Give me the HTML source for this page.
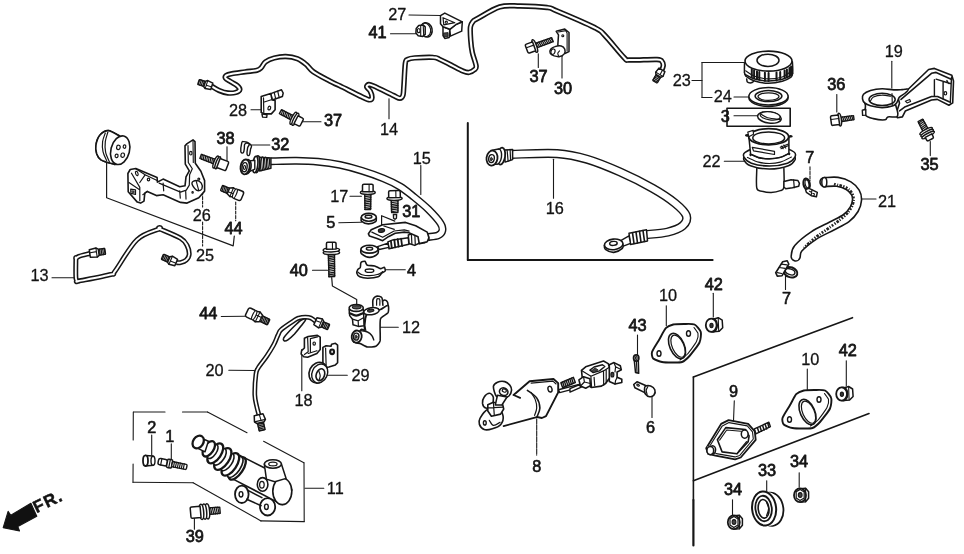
<!DOCTYPE html>
<html><head><meta charset="utf-8"><title>Clutch master cylinder diagram</title>
<style>
html,body{margin:0;padding:0;background:#fff;}
body{width:964px;height:554px;overflow:hidden;}
svg{display:block;filter:grayscale(1);}
svg text{font-family:"Liberation Sans",sans-serif;fill:#111;}
.t{stroke-linejoin:round;}
</style></head><body>
<svg width="964" height="554" viewBox="0 0 964 554" stroke-linecap="round" stroke-linejoin="round">
<rect x="0" y="0" width="964" height="554" fill="#fff"/>
<line x1="467.8" y1="123" x2="467.8" y2="260" stroke="#161616" stroke-width="2"/>
<line x1="467.8" y1="260" x2="712.6" y2="260" stroke="#161616" stroke-width="2"/>
<line x1="693.4" y1="377" x2="852.5" y2="317.7" stroke="#161616" stroke-width="1.6"/>
<line x1="693.4" y1="377" x2="693.4" y2="500" stroke="#161616" stroke-width="1.6"/>
<line x1="693.4" y1="500" x2="693.4" y2="545.5" stroke="#161616" stroke-width="2.2"/>
<line x1="693.4" y1="480.7" x2="869" y2="413.5" stroke="#161616" stroke-width="1.6"/>
<path class="t" d="M211.8 86.3C213 87 216.3 89.3 219 90.4C221.7 91.5 225 92.7 227.8 93C230.6 93.3 233.7 93.1 235.7 92.5C237.7 91.9 239.6 90.7 239.8 89.5C240.1 88.3 238.7 86.9 237.2 85.6C235.7 84.3 232.6 82.9 230.7 81.7C228.8 80.5 226.3 79.3 225.6 78.3C224.9 77.2 225.2 76.2 226.3 75.4C227.4 74.6 228.9 74.3 232.1 73.7C235.2 73.1 241.1 72.4 245.2 71.8C249.3 71.2 254.1 71 256.8 70.3C259.5 69.6 259.8 69.1 261.2 67.7C262.6 66.3 263.3 63.5 265.5 61.9C267.7 60.3 270.8 58.9 274.2 58C277.6 57.1 281.9 56.4 285.8 56.5C289.7 56.6 294.1 57.4 297.5 58.7C300.9 60 303.6 62.3 306.2 64.5C308.8 66.7 309.4 69 313.4 71.8C317.4 74.6 325.6 78.8 330 81.2C334.4 83.6 334.7 83.3 340 85.9C345.3 88.5 356.9 94.5 361.8 96.8C366.7 99.1 367.9 99.8 369.6 99.9C371.3 100 371.9 99 372 97.6C372.1 96.2 371.2 93.1 370.3 91.3C369.4 89.5 366.9 88 366.7 86.9C366.4 85.8 367.7 84.7 368.8 84.5C369.9 84.3 369.5 84.1 373.5 85.9C377.5 87.7 388.5 93.1 392.9 95.2C397.3 97.3 398.2 98.3 399.9 98.3C401.6 98.3 402.4 97.1 403 95.2C403.6 93.3 403.4 92 403.8 86.7C404.2 81.4 404.7 67.8 405.3 63.3C405.9 58.8 406.1 60.3 407.7 59.4C409.3 58.5 410.4 58.2 414.7 57.9C419 57.6 429.2 57.1 433.4 57.4C437.5 57.6 436.7 58.1 439.6 59.4C442.5 60.7 447.1 63 451 65C454.9 67 459.9 69.9 462.9 71.1C465.9 72.3 467.2 72.7 469.1 72.4C471.1 72.2 473.4 70.7 474.6 69.6C475.8 68.5 476.5 68.6 476.1 65.7C475.7 62.8 473.2 56.7 472.3 52.4C471.4 48.1 471 44.2 470.7 40C470.4 35.8 470 30.1 470.4 27C470.8 23.9 471.9 22.9 473 21.5C474.1 20.1 472.9 21.1 477.3 18.7C481.8 16.3 492.6 9 499.7 6.9C506.8 4.8 512.1 5.9 520 6C527.9 6.1 540.8 6.7 547 7.5C553.2 8.3 549.1 7.7 557 11C564.9 14.3 586.6 23.5 594.5 27.5C602.4 31.5 599.6 30 604.5 35C609.4 40 619.8 53.3 624 57.5C628.2 61.7 624.5 59.7 630 60C635.5 60.3 651.7 59.2 657 59.5C662.3 59.8 661 60.4 662 61.5C663 62.6 663.4 64.3 663.2 66C663 67.7 661.4 70.6 661 71.5" fill="none" stroke="#161616" stroke-width="5.4" stroke-linecap="butt"/>
<path class="t" d="M211.8 86.3C213 87 216.3 89.3 219 90.4C221.7 91.5 225 92.7 227.8 93C230.6 93.3 233.7 93.1 235.7 92.5C237.7 91.9 239.6 90.7 239.8 89.5C240.1 88.3 238.7 86.9 237.2 85.6C235.7 84.3 232.6 82.9 230.7 81.7C228.8 80.5 226.3 79.3 225.6 78.3C224.9 77.2 225.2 76.2 226.3 75.4C227.4 74.6 228.9 74.3 232.1 73.7C235.2 73.1 241.1 72.4 245.2 71.8C249.3 71.2 254.1 71 256.8 70.3C259.5 69.6 259.8 69.1 261.2 67.7C262.6 66.3 263.3 63.5 265.5 61.9C267.7 60.3 270.8 58.9 274.2 58C277.6 57.1 281.9 56.4 285.8 56.5C289.7 56.6 294.1 57.4 297.5 58.7C300.9 60 303.6 62.3 306.2 64.5C308.8 66.7 309.4 69 313.4 71.8C317.4 74.6 325.6 78.8 330 81.2C334.4 83.6 334.7 83.3 340 85.9C345.3 88.5 356.9 94.5 361.8 96.8C366.7 99.1 367.9 99.8 369.6 99.9C371.3 100 371.9 99 372 97.6C372.1 96.2 371.2 93.1 370.3 91.3C369.4 89.5 366.9 88 366.7 86.9C366.4 85.8 367.7 84.7 368.8 84.5C369.9 84.3 369.5 84.1 373.5 85.9C377.5 87.7 388.5 93.1 392.9 95.2C397.3 97.3 398.2 98.3 399.9 98.3C401.6 98.3 402.4 97.1 403 95.2C403.6 93.3 403.4 92 403.8 86.7C404.2 81.4 404.7 67.8 405.3 63.3C405.9 58.8 406.1 60.3 407.7 59.4C409.3 58.5 410.4 58.2 414.7 57.9C419 57.6 429.2 57.1 433.4 57.4C437.5 57.6 436.7 58.1 439.6 59.4C442.5 60.7 447.1 63 451 65C454.9 67 459.9 69.9 462.9 71.1C465.9 72.3 467.2 72.7 469.1 72.4C471.1 72.2 473.4 70.7 474.6 69.6C475.8 68.5 476.5 68.6 476.1 65.7C475.7 62.8 473.2 56.7 472.3 52.4C471.4 48.1 471 44.2 470.7 40C470.4 35.8 470 30.1 470.4 27C470.8 23.9 471.9 22.9 473 21.5C474.1 20.1 472.9 21.1 477.3 18.7C481.8 16.3 492.6 9 499.7 6.9C506.8 4.8 512.1 5.9 520 6C527.9 6.1 540.8 6.7 547 7.5C553.2 8.3 549.1 7.7 557 11C564.9 14.3 586.6 23.5 594.5 27.5C602.4 31.5 599.6 30 604.5 35C609.4 40 619.8 53.3 624 57.5C628.2 61.7 624.5 59.7 630 60C635.5 60.3 651.7 59.2 657 59.5C662.3 59.8 661 60.4 662 61.5C663 62.6 663.4 64.3 663.2 66C663 67.7 661.4 70.6 661 71.5" fill="none" stroke="#fff" stroke-width="2.1" stroke-linecap="butt"/>
<path class="t" d="M89.8 253.5C88 254 81.2 255.5 78.9 256.4C76.6 257.3 76.4 258.4 75.9 258.8C75.4 259.2 75.9 255.5 75.9 258.8C75.9 262.1 75.5 275 76 278.7C76.5 282.4 78.2 280.7 78.6 281.1C79 281.5 73.2 282.2 78.6 281.1C84 280 104.7 276.2 110.8 274.5C116.9 272.8 110.8 276.7 115.2 270.9C119.6 265.1 129.6 246.7 137 239.7C144.4 232.7 155.8 230.6 159.5 228.8C163.2 227 156 227.2 159.5 228.8C163 230.4 175.9 235.4 180.5 238.2C185.1 241 185.7 242.8 187.1 245.5C188.5 248.2 189.3 251.8 189.2 254.2C189.1 256.6 187.8 258.6 186.3 260C184.9 261.4 182.2 262.2 180.5 262.6C178.8 263 176.9 262.6 176.2 262.6" fill="none" stroke="#161616" stroke-width="5" stroke-linecap="butt"/>
<path class="t" d="M89.8 253.5C88 254 81.2 255.5 78.9 256.4C76.6 257.3 76.4 258.4 75.9 258.8C75.4 259.2 75.9 255.5 75.9 258.8C75.9 262.1 75.5 275 76 278.7C76.5 282.4 78.2 280.7 78.6 281.1C79 281.5 73.2 282.2 78.6 281.1C84 280 104.7 276.2 110.8 274.5C116.9 272.8 110.8 276.7 115.2 270.9C119.6 265.1 129.6 246.7 137 239.7C144.4 232.7 155.8 230.6 159.5 228.8C163.2 227 156 227.2 159.5 228.8C163 230.4 175.9 235.4 180.5 238.2C185.1 241 185.7 242.8 187.1 245.5C188.5 248.2 189.3 251.8 189.2 254.2C189.1 256.6 187.8 258.6 186.3 260C184.9 261.4 182.2 262.2 180.5 262.6C178.8 263 176.9 262.6 176.2 262.6" fill="none" stroke="#fff" stroke-width="1.9" stroke-linecap="butt"/>
<path class="t" d="M270.9 161.3C275.1 161.2 288.4 160.6 296.3 160.7C304.2 160.8 310.8 161 318.1 161.7C325.4 162.4 332.6 163.4 339.9 164.9C347.2 166.4 354.4 168.4 361.7 170.7C368.9 172.9 377 175.8 383.4 178.4C389.8 181 394.9 183.4 400 186.5C405.1 189.6 409.3 193.2 414 197C418.7 200.8 424 205.1 428.4 209.4C432.8 213.8 438.1 219.6 440.4 223.1C442.7 226.6 442.8 228.4 442.4 230.5C442 232.6 440.4 234.3 438 235.4C435.6 236.5 429.7 236.7 428 237" fill="none" stroke="#161616" stroke-width="7.9" stroke-linecap="butt"/>
<path class="t" d="M270.9 161.3C275.1 161.2 288.4 160.6 296.3 160.7C304.2 160.8 310.8 161 318.1 161.7C325.4 162.4 332.6 163.4 339.9 164.9C347.2 166.4 354.4 168.4 361.7 170.7C368.9 172.9 377 175.8 383.4 178.4C389.8 181 394.9 183.4 400 186.5C405.1 189.6 409.3 193.2 414 197C418.7 200.8 424 205.1 428.4 209.4C432.8 213.8 438.1 219.6 440.4 223.1C442.7 226.6 442.8 228.4 442.4 230.5C442 232.6 440.4 234.3 438 235.4C435.6 236.5 429.7 236.7 428 237" fill="none" stroke="#fff" stroke-width="5" stroke-linecap="butt"/>
<path class="t" d="M512.1 154.3C519.6 154.2 544.7 152.8 557.2 153.6C569.7 154.4 576.8 156.2 587.3 159.3C597.8 162.4 609 167.1 619.9 171.9C630.8 176.7 643.3 183 652.5 188.2C661.7 193.4 669.5 198.6 675.1 203.2C680.8 207.8 685.1 212 686.4 215.8C687.6 219.6 685.7 223.1 682.6 225.8C679.5 228.5 673.7 230.6 667.6 232.1C661.5 233.6 649.8 234.2 646.2 234.6" fill="none" stroke="#161616" stroke-width="9.2" stroke-linecap="butt"/>
<path class="t" d="M512.1 154.3C519.6 154.2 544.7 152.8 557.2 153.6C569.7 154.4 576.8 156.2 587.3 159.3C597.8 162.4 609 167.1 619.9 171.9C630.8 176.7 643.3 183 652.5 188.2C661.7 193.4 669.5 198.6 675.1 203.2C680.8 207.8 685.1 212 686.4 215.8C687.6 219.6 685.7 223.1 682.6 225.8C679.5 228.5 673.7 230.6 667.6 232.1C661.5 233.6 649.8 234.2 646.2 234.6" fill="none" stroke="#fff" stroke-width="6.3" stroke-linecap="butt"/>
<path class="t" d="M824.5 182.1C826.6 182.1 833.4 181.2 837.4 181.8C841.4 182.4 845.6 183.9 848.6 185.7C851.6 187.5 853.9 190 855.3 192.4C856.7 194.8 857.2 197.4 857 200.2C856.8 203 856 206.2 854.2 209.2C852.4 212.2 850 215.3 846.3 218.1C842.6 220.9 837.3 223.1 831.8 226C826.3 228.9 818.9 232.1 813.3 235.8C807.7 239.5 801.1 245 798.2 248.4C795.3 251.8 796.1 255.1 795.7 256.4" fill="none" stroke="#161616" stroke-width="10.6" stroke-linecap="round"/>
<path class="t" d="M824.5 182.1C826.6 182.1 833.4 181.2 837.4 181.8C841.4 182.4 845.6 183.9 848.6 185.7C851.6 187.5 853.9 190 855.3 192.4C856.7 194.8 857.2 197.4 857 200.2C856.8 203 856 206.2 854.2 209.2C852.4 212.2 850 215.3 846.3 218.1C842.6 220.9 837.3 223.1 831.8 226C826.3 228.9 818.9 232.1 813.3 235.8C807.7 239.5 801.1 245 798.2 248.4C795.3 251.8 796.1 255.1 795.7 256.4" fill="none" stroke="#fff" stroke-width="7.4" stroke-linecap="round"/>
<line x1="409" y1="15" x2="441" y2="15.5" stroke="#1a1a1a" stroke-width="1.1"/>
<line x1="390.5" y1="33.8" x2="416" y2="33.8" stroke="#1a1a1a" stroke-width="1.1"/>
<line x1="302" y1="121.8" x2="321" y2="121.8" stroke="#1a1a1a" stroke-width="1.1"/>
<line x1="389" y1="98.8" x2="389" y2="118.8" stroke="#1a1a1a" stroke-width="1.1"/>
<line x1="251" y1="109.8" x2="261" y2="109.8" stroke="#1a1a1a" stroke-width="1.1"/>
<line x1="538.3" y1="53.8" x2="538.3" y2="67.5" stroke="#1a1a1a" stroke-width="1.1"/>
<line x1="562" y1="56.3" x2="562" y2="78" stroke="#1a1a1a" stroke-width="1.1"/>
<line x1="692" y1="80.5" x2="702" y2="80.5" stroke="#1a1a1a" stroke-width="1.1"/>
<line x1="702" y1="62.5" x2="702" y2="97.5" stroke="#1a1a1a" stroke-width="1.1"/>
<line x1="702" y1="62.5" x2="744.5" y2="62.5" stroke="#1a1a1a" stroke-width="1.1"/>
<line x1="702" y1="97.5" x2="712" y2="97.5" stroke="#1a1a1a" stroke-width="1.1"/>
<line x1="734" y1="97" x2="749" y2="97" stroke="#1a1a1a" stroke-width="1.1"/>
<line x1="734" y1="115.8" x2="757" y2="115.8" stroke="#1a1a1a" stroke-width="1.1"/>
<line x1="724.3" y1="161.3" x2="744" y2="161.3" stroke="#1a1a1a" stroke-width="1.1"/>
<line x1="891.8" y1="61.3" x2="891.8" y2="88" stroke="#1a1a1a" stroke-width="1.1"/>
<line x1="836.8" y1="94.5" x2="836.8" y2="112" stroke="#1a1a1a" stroke-width="1.1"/>
<line x1="930.3" y1="141.5" x2="930.3" y2="155.6" stroke="#1a1a1a" stroke-width="1.1"/>
<line x1="810" y1="166.9" x2="810" y2="180.6" stroke="#1a1a1a" stroke-width="1.1" stroke-dasharray="3 1.5"/>
<line x1="862.2" y1="199" x2="876" y2="199" stroke="#1a1a1a" stroke-width="1.1"/>
<line x1="785.5" y1="276" x2="785.5" y2="289.5" stroke="#1a1a1a" stroke-width="1.1"/>
<line x1="553.5" y1="159.3" x2="553.5" y2="198.2" stroke="#1a1a1a" stroke-width="1.1"/>
<line x1="420.8" y1="165.6" x2="420.8" y2="194.4" stroke="#1a1a1a" stroke-width="1.1"/>
<line x1="249.8" y1="145" x2="269.8" y2="145" stroke="#1a1a1a" stroke-width="1.1"/>
<line x1="350" y1="196.2" x2="361.4" y2="196.2" stroke="#1a1a1a" stroke-width="1.1"/>
<line x1="338.8" y1="222.8" x2="361.4" y2="222.3" stroke="#1a1a1a" stroke-width="1.1"/>
<line x1="312.5" y1="270.2" x2="327.5" y2="270.2" stroke="#1a1a1a" stroke-width="1.1"/>
<line x1="385.2" y1="269.7" x2="405.3" y2="269.7" stroke="#1a1a1a" stroke-width="1.1"/>
<line x1="227" y1="146.8" x2="227" y2="160.6" stroke="#1a1a1a" stroke-width="1.1"/>
<line x1="202.6" y1="192" x2="202.6" y2="207" stroke="#1a1a1a" stroke-width="1.1" stroke-dasharray="3 1.5"/>
<line x1="202.6" y1="222" x2="202.6" y2="246" stroke="#1a1a1a" stroke-width="1.1" stroke-dasharray="3 1.5"/>
<line x1="235.7" y1="202" x2="235.7" y2="220.8" stroke="#1a1a1a" stroke-width="1.1" stroke-dasharray="3 1.5"/>
<path d="M106.6 161.8L106.6 197.7L233.2 245.9L234.3 236" fill="none" stroke="#1a1a1a" stroke-width="1.2"/>
<line x1="52" y1="277.7" x2="73.8" y2="277.7" stroke="#1a1a1a" stroke-width="1.1"/>
<line x1="221.3" y1="316.5" x2="245.4" y2="316.3" stroke="#1a1a1a" stroke-width="1.1"/>
<line x1="228.8" y1="370.3" x2="254.4" y2="370.5" stroke="#1a1a1a" stroke-width="1.1"/>
<line x1="380.5" y1="327.3" x2="398.3" y2="327.3" stroke="#1a1a1a" stroke-width="1.1"/>
<line x1="326" y1="375.3" x2="347.3" y2="375.3" stroke="#1a1a1a" stroke-width="1.1"/>
<line x1="301.8" y1="349.5" x2="301.8" y2="390.8" stroke="#1a1a1a" stroke-width="1.1"/>
<line x1="151.7" y1="435" x2="151.7" y2="455.1" stroke="#1a1a1a" stroke-width="1.1"/>
<line x1="171.3" y1="443.9" x2="171.3" y2="460.2" stroke="#1a1a1a" stroke-width="1.1"/>
<line x1="194.4" y1="517.9" x2="194.4" y2="529.2" stroke="#1a1a1a" stroke-width="1.1"/>
<line x1="305" y1="488.3" x2="323.8" y2="488.3" stroke="#1a1a1a" stroke-width="1.1"/>
<line x1="536.7" y1="418.8" x2="536.7" y2="455.1" stroke="#1a1a1a" stroke-width="1.1" stroke-dasharray="5 1"/>
<line x1="652" y1="396.5" x2="652" y2="417.5" stroke="#1a1a1a" stroke-width="1.1"/>
<line x1="637.5" y1="335" x2="637.5" y2="355" stroke="#1a1a1a" stroke-width="1.1"/>
<line x1="666.3" y1="305.8" x2="666.3" y2="325.8" stroke="#1a1a1a" stroke-width="1.1"/>
<line x1="713.3" y1="293.3" x2="713.3" y2="317" stroke="#1a1a1a" stroke-width="1.1"/>
<line x1="807.3" y1="369" x2="807.3" y2="389.5" stroke="#1a1a1a" stroke-width="1.1"/>
<line x1="846.3" y1="360.8" x2="846.3" y2="385.8" stroke="#1a1a1a" stroke-width="1.1"/>
<line x1="734.3" y1="400.8" x2="733.5" y2="421" stroke="#1a1a1a" stroke-width="1.1"/>
<line x1="766.7" y1="480.7" x2="766.7" y2="490.8" stroke="#1a1a1a" stroke-width="1.1"/>
<line x1="799.2" y1="472.7" x2="799.2" y2="487.2" stroke="#1a1a1a" stroke-width="1.1"/>
<line x1="732.5" y1="499.8" x2="732.5" y2="514.6" stroke="#1a1a1a" stroke-width="1.1"/>
<path d="M331.7 277.6L332.4 285.9L356.7 299.4L356.7 304.6" fill="none" stroke="#1a1a1a" stroke-width="1.2"/>
<line x1="133.5" y1="412" x2="165" y2="412" stroke="#1a1a1a" stroke-width="1.1"/>
<line x1="182.5" y1="412" x2="207.5" y2="412" stroke="#1a1a1a" stroke-width="1.1"/>
<line x1="207.5" y1="412" x2="247" y2="432.7" stroke="#1a1a1a" stroke-width="1.1"/>
<line x1="263.6" y1="441.3" x2="303.9" y2="462.7" stroke="#1a1a1a" stroke-width="1.1"/>
<line x1="304" y1="462.7" x2="304.2" y2="521.6" stroke="#1a1a1a" stroke-width="1.1"/>
<line x1="304.2" y1="521.6" x2="261" y2="520.9" stroke="#1a1a1a" stroke-width="1.1"/>
<line x1="261" y1="520.9" x2="193.1" y2="482.7" stroke="#1a1a1a" stroke-width="1.1"/>
<line x1="193.1" y1="482.7" x2="133" y2="482.2" stroke="#1a1a1a" stroke-width="1.1"/>
<line x1="133.3" y1="412" x2="133.2" y2="440" stroke="#1a1a1a" stroke-width="1.1"/>
<line x1="133.1" y1="464" x2="133" y2="482.2" stroke="#1a1a1a" stroke-width="1.1"/>
<rect x="727" y="108.2" width="63.2" height="18" fill="none" stroke="#161616" stroke-width="1.6"/>
<g transform="translate(211.8 86.3) rotate(198)"><rect x="7.5" y="-2.6" width="6.5" height="5.2" rx="0.8" fill="#fff" stroke="#161616" stroke-width="1.4"/><path d="M8.7 -2.6 L8.7 2.6M10.3 -2.6 L10.3 2.6M11.9 -2.6 L11.9 2.6M13.5 -2.6 L13.5 2.6" stroke="#161616" stroke-width="1.2" fill="none"/><path d="M0 -3.4 L5.6 -4.2 L7.5 -2.9 L7.5 2.9 L5.6 4.2 L0 3.4Z" fill="#fff" stroke="#161616" stroke-width="1.5"/><path d="M5.6 -4.2 L5.6 4.2 M0.5 -0.6 L5.6 -0.8" fill="none" stroke="#161616" stroke-width="1.1"/></g>
<g transform="translate(662 69.8) rotate(120.6)"><rect x="7" y="-2.6" width="7" height="5.2" rx="0.8" fill="#fff" stroke="#161616" stroke-width="1.4"/><path d="M8.2 -2.6 L8.2 2.6M9.8 -2.6 L9.8 2.6M11.4 -2.6 L11.4 2.6M13 -2.6 L13 2.6" stroke="#161616" stroke-width="1.2" fill="none"/><path d="M0 -3.4 L5.2 -4.2 L7 -2.9 L7 2.9 L5.2 4.2 L0 3.4Z" fill="#fff" stroke="#161616" stroke-width="1.5"/><path d="M5.2 -4.2 L5.2 4.2 M0.5 -0.6 L5.2 -0.8" fill="none" stroke="#161616" stroke-width="1.1"/></g>
<g transform="translate(89.8 253.5) rotate(-8)"><rect x="9" y="-3" width="6.5" height="6" rx="0.8" fill="#fff" stroke="#161616" stroke-width="1.4"/><path d="M10.2 -3 L10.2 3M11.8 -3 L11.8 3M13.4 -3 L13.4 3M15 -3 L15 3" stroke="#161616" stroke-width="1.2" fill="none"/><path d="M0 -3.7 L6.8 -4.6 L9 -3.2 L9 3.2 L6.8 4.6 L0 3.7Z" fill="#fff" stroke="#161616" stroke-width="1.5"/><path d="M6.8 -4.6 L6.8 4.6 M0.5 -0.7 L6.8 -0.9" fill="none" stroke="#161616" stroke-width="1.1"/></g>
<g transform="translate(176.2 262.6) rotate(203)"><rect x="8" y="-2.8" width="7" height="5.6" rx="0.8" fill="#fff" stroke="#161616" stroke-width="1.4"/><path d="M9.2 -2.8 L9.2 2.8M10.8 -2.8 L10.8 2.8M12.4 -2.8 L12.4 2.8M14 -2.8 L14 2.8" stroke="#161616" stroke-width="1.2" fill="none"/><path d="M0 -3.5 L6 -4.4 L8 -3.1 L8 3.1 L6 4.4 L0 3.5Z" fill="#fff" stroke="#161616" stroke-width="1.5"/><path d="M6 -4.4 L6 4.4 M0.5 -0.7 L6 -0.9" fill="none" stroke="#161616" stroke-width="1.1"/></g>
<path d="M443 26.8L443 35.5L444.8 38.4L449.2 37.4L449.8 29.3Z" fill="#fff" stroke="#161616" stroke-width="1.5"/>
<path d="M443.8 33L448 32.6L448 36.4L444.1 36.9Z" fill="#444" stroke="#161616" stroke-width="0.8"/>
<path d="M456 24.3L462.3 21.8L461.7 31.1L450.4 36.1L449.8 29.3Z" fill="#fff" stroke="#161616" stroke-width="1.5"/>
<path d="M440.5 15.6L444.8 13.1L462.3 21.8L456 24.5L449.8 29.3L443 26.8L440.5 23.7Z" fill="#fff" stroke="#161616" stroke-width="1.5"/>
<path d="M443 17.7L454.8 22.7L443.8 24.9Z" fill="none" stroke="#161616" stroke-width="1.2"/>
<ellipse cx="446.3" cy="22.2" rx="1.1" ry="1.1" fill="#fff" stroke="#161616" stroke-width="1.1"/>
<ellipse cx="426.4" cy="29.9" rx="5.7" ry="7.2" fill="#fff" stroke="#161616" stroke-width="1.5" transform="rotate(-12 426.4 29.9)"/>
<ellipse cx="425.4" cy="29.9" rx="5.2" ry="6.7" fill="#fff" stroke="#161616" stroke-width="1.1" transform="rotate(-12 425.4 29.9)"/>
<path d="M416.2 28.4L418.7 25.5L423 24.9L425.2 26.9L425.2 34.4L422.7 36.4L418.2 35.7L415.9 33.1Z" fill="#fff" stroke="#161616" stroke-width="1.5"/>
<path d="M420.7 25.7L420.7 35.9M423.2 25.2L423.7 35.4" fill="none" stroke="#161616" stroke-width="1.1"/>
<ellipse cx="418.7" cy="30.6" rx="1.4" ry="2.1" fill="#fff" stroke="#161616" stroke-width="1.2"/>
<g transform="translate(526.6 49) rotate(-20)"><path d="M9.1 -2.3 L27.5 -2.1 L27.5 2.1 L9.1 2.3Z" fill="#fff" stroke="#161616" stroke-width="1.4"/><path d="M10.3 -2.3 L11.2 2.3M12.1 -2.3 L13 2.3M13.9 -2.3 L14.8 2.3M15.7 -2.3 L16.6 2.3M17.5 -2.3 L18.4 2.3M19.3 -2.3 L20.2 2.3M21.1 -2.3 L22 2.3M22.9 -2.3 L23.8 2.3M24.7 -2.3 L25.6 2.3M26.5 -2.3 L27.4 2.3" fill="none" stroke="#161616" stroke-width="1.2"/><ellipse cx="8.7" cy="0" rx="1.8" ry="6.6" fill="#fff" stroke="#161616" stroke-width="1.5"/><path d="M8 -4.7 L1.4 -4.7 Q0 -4.7 0 -3.3 L0 3.3 Q0 4.7 1.4 4.7 L8 4.7Z" fill="#fff" stroke="#161616" stroke-width="1.5"/><path d="M0.3 -1.2 L8 -1.2" fill="none" stroke="#161616" stroke-width="1.1"/></g>
<path d="M556.2 31.3L564.8 29.1L569 32.5L569 51.6L564.8 53.5L562.3 48.2L557.8 45.2L558.5 34.9Z" fill="#fff" stroke="#161616" stroke-width="1.5"/>
<path d="M558.5 32L565.8 30.6L567.1 33.3L567.1 50.9" fill="none" stroke="#161616" stroke-width="1.1"/>
<ellipse cx="562.8" cy="35.8" rx="1" ry="1" fill="#fff" stroke="#161616" stroke-width="1.1"/>
<path d="M550.7 49.2C551.5 48.1 553.1 47.1 554.9 46.6C556.6 46 559.5 45.5 561.2 45.9C562.8 46.3 564.3 47.9 564.8 49.2C565.3 50.6 565 52.7 564.2 53.9C563.3 55.1 561.5 56.2 559.8 56.5C558.2 56.9 555.8 56.4 554.2 55.9C552.6 55.3 550.8 54.3 550.2 53.2C549.6 52.1 549.9 50.3 550.7 49.2Z" fill="#fff" stroke="#161616" stroke-width="1.5"/>
<ellipse cx="553" cy="51.7" rx="2" ry="2.8" fill="#fff" stroke="#161616" stroke-width="1.2" transform="rotate(15 553 51.7)"/>
<path d="M558.5 55.9C558.4 55.4 557.7 54 557.8 53.2C558 52.4 559.2 51.3 559.5 50.9" fill="none" stroke="#161616" stroke-width="1.1"/>
<path d="M746.7 78.9C746.8 79.5 746.8 81.4 747.4 82.1C748 82.8 749.4 83 750.3 83C751.3 82.9 752.7 82.4 753.2 81.8C753.8 81.2 753.5 79.9 753.5 79.5" fill="#fff" stroke="#161616" stroke-width="1.5"/>
<path d="M744.5 72.2C744.8 72.9 744.3 74.9 746 76.3C747.7 77.8 750.9 79.8 754.7 81C758.4 82.1 763.9 83.2 768.5 83.3C773.1 83.3 778.5 82.3 782.3 81.2C786 80.2 789.3 78.5 791 77.2C792.7 75.8 792.4 73.8 792.7 73.1" fill="#fff" stroke="#161616" stroke-width="1.5"/>
<path d="M744.5 63.2C744.5 64.7 744.3 70.3 744.5 72.2C744.8 74.2 744.3 73.7 746 74.9C747.7 76 750.9 77.9 754.7 78.9C758.4 79.9 763.9 80.9 768.5 81C773.1 81 778.5 80.1 782.3 79.2C786 78.3 789.3 76.6 791 75.4C792.7 74.3 792.5 74.5 792.7 72.2C793 70 792.5 63.5 792.4 61.8" fill="#fff" stroke="#161616" stroke-width="1.5"/>
<path d="M745.7 70.8C747.2 71.7 750.9 75 754.7 76.3C758.5 77.7 763.9 78.8 768.5 78.9C773.1 79 778.4 78.2 782.3 76.9C786.1 75.6 790 72 791.6 71.1" fill="none" stroke="#161616" stroke-width="1.1"/>
<path d="M751.8 69L751.8 77.2M754.1 70.2L754.1 78.3M757 71.4L757 79.2M759.3 72L759.3 79.8M764.9 72.8L764.9 80.7M768.6 73.1L768.6 81M776.5 72.5L776.5 80.4M780.2 72L780.2 79.5M784.6 70.5L784.6 78M786.9 69.6L786.9 77.2M789.5 67.9L789.5 75.7M791.1 66.4L791.1 74.6" fill="none" stroke="#161616" stroke-width="2"/>
<ellipse cx="768.5" cy="61.1" rx="23.5" ry="10" fill="#fff" stroke="#161616" stroke-width="1.6"/>
<ellipse cx="768" cy="60.3" rx="11" ry="6.1" fill="#fff" stroke="#161616" stroke-width="1.5"/>
<ellipse cx="768.5" cy="97.5" rx="19.6" ry="9" fill="#fff" stroke="#161616" stroke-width="1.5"/>
<ellipse cx="768.5" cy="96.3" rx="19.6" ry="8.7" fill="#fff" stroke="#161616" stroke-width="1.5"/>
<ellipse cx="768.5" cy="96.1" rx="13.4" ry="5.5" fill="#fff" stroke="#161616" stroke-width="1.5"/>
<ellipse cx="768.5" cy="96.6" rx="10.5" ry="3.8" fill="#fff" stroke="#161616" stroke-width="1.2"/>
<ellipse cx="769.4" cy="117.5" rx="11.9" ry="5.6" fill="#fff" stroke="#161616" stroke-width="1.5" transform="rotate(8 769.4 117.5)"/>
<ellipse cx="770.1" cy="115.9" rx="10.1" ry="4" fill="#fff" stroke="#161616" stroke-width="1.2" transform="rotate(8 770.1 115.9)"/>
<path d="M760.8 114.1C761.9 114.7 764.4 116.8 767.6 117.7C770.9 118.6 778.1 119.2 780.3 119.5" fill="none" stroke="#161616" stroke-width="1.1"/>
<path d="M756.8 168.6C756.8 171.8 755.9 184.3 756.8 188.1C757.7 191.8 759.8 190.4 762.2 191.2C764.6 191.9 768.2 192.5 771.2 192.4C774.2 192.3 778.1 191.5 780.3 190.6C782.4 189.7 783.3 190.7 783.9 187C784.5 183.3 783.9 171.7 783.9 168.6" fill="#fff" stroke="#161616" stroke-width="1.5"/>
<path d="M783.9 181.6L791.1 179.8L797.9 180.5L799.4 183.4L798.7 186.3L792.5 187.7L785.7 188.8L783.9 187Z" fill="#fff" stroke="#161616" stroke-width="1.5"/>
<path d="M793.6 179.8L794.3 187.7" fill="none" stroke="#161616" stroke-width="1.2"/>
<path d="M745.1 153.8C744.8 154.8 742.9 157.6 743.8 159.6C744.7 161.6 746.2 164.1 750.5 165.7C754.7 167.3 763.1 169 769.4 169C775.7 169 784.1 167.3 788.4 165.7C792.6 164.1 794.1 161.6 795.1 159.6C796 157.5 794.2 154.5 794 153.4" fill="#fff" stroke="#161616" stroke-width="1.5"/>
<path d="M745.1 152.3C742.6 154 743.1 155.6 744.2 157.4C745.2 159.2 747.2 161.7 751.4 163.2C755.6 164.6 763.4 166.1 769.4 166.1C775.4 166.1 783.3 164.6 787.5 163.2C791.7 161.7 793.6 159.3 794.7 157.4C795.8 155.5 796.4 153.7 794 152C791.6 150.3 786.1 148.1 780.3 147.3C774.4 146.5 764.5 146.5 758.6 147.3C752.7 148.1 747.5 150.7 745.1 152.3Z" fill="#fff" stroke="#161616" stroke-width="1.5"/>
<path d="M747.4 157.4C749.3 158.2 754.9 161.1 758.6 162.1C762.3 163.1 765.8 163.5 769.4 163.5C773 163.5 776.6 163.2 780.3 162.1C783.9 161 789.6 157.9 791.4 157" fill="none" stroke="#161616" stroke-width="1.1"/>
<path d="M748.8 136.1C742.2 136 748.5 133.1 748.8 136.1C749.1 139.1 750.3 151.1 750.6 154.2C751 157.2 749.3 153.6 750.6 154.2C752 154.7 755.5 156.6 758.6 157.4C761.7 158.2 765.8 158.8 769.4 158.8C773 158.8 777 158.3 780.3 157.4C783.5 156.5 787.5 154.1 788.9 153.4C790.4 152.8 788.9 156.2 788.9 153.4C788.9 150.7 788.9 139.7 788.9 137C788.9 134.3 795.6 137.2 788.9 137C782.2 136.9 755.5 136.3 748.8 136.1Z" fill="#fff" stroke="#161616" stroke-width="1.5"/>
<path d="M750.6 154.2C752 154.8 755.5 157 758.6 157.8C761.7 158.5 765.8 158.9 769.4 158.8C773 158.8 777 158.3 780.3 157.4C783.5 156.5 787.5 154.1 788.9 153.4" fill="none" stroke="#161616" stroke-width="1.2"/>
<path d="M752.3 147.3L774.5 151.3L774.5 154.5L753.5 150.9Z" fill="#fff" stroke="#161616" stroke-width="1.2"/>
<path d="M780.3 147.3L788.4 144M781 148.7L788.6 145.5M781.3 146.2L783.1 148.7M783.9 145.1L785.7 148" fill="none" stroke="#161616" stroke-width="1.2"/>
<ellipse cx="768.7" cy="136.8" rx="20" ry="8.1" fill="#fff" stroke="#161616" stroke-width="1.8"/>
<ellipse cx="768.7" cy="137.9" rx="15.9" ry="6" fill="#fff" stroke="#161616" stroke-width="1.5"/>
<path d="M747.8 132.1L753.2 130.3L753.5 134.3L748.8 136.8Z" fill="#fff" stroke="#161616" stroke-width="1.2"/>
<ellipse cx="806.6" cy="183.9" rx="3.1" ry="5.4" fill="#fff" stroke="#161616" stroke-width="2.2" transform="rotate(-10 806.6 183.9)"/>
<ellipse cx="807" cy="183.9" rx="1.8" ry="4" fill="#fff" stroke="#161616" stroke-width="1.1" transform="rotate(-10 807 183.9)"/>
<path d="M805.5 189.5L809.1 188.4L817.3 192.4L816.4 196.8L811.3 195.7L806.4 192.4Z" fill="#fff" stroke="#161616" stroke-width="1.5"/>
<path d="M809.5 191.3L814.5 193.9L813.8 196M812 189.9L811.3 194.6" fill="none" stroke="#161616" stroke-width="1.1"/>
<path d="M896.6 91.6L908.2 89.3L928.6 69.5L934.4 68.4L951.8 75.3L953.5 81.1L952.7 102.9L948.9 105.2L937.3 99.4L931.5 100L905.3 111.1L902.4 116.9L897.5 117.7L896.3 113.1L899.5 103.2Z" fill="#fff" stroke="#161616" stroke-width="1.6"/>
<path d="M901 99.4L931.5 73.3L936.1 72.4L950.6 79.1" fill="none" stroke="#161616" stroke-width="1.6"/>
<path d="M899.5 110.8L905.3 106.7L931.5 96.5L937.6 96.5L949.2 101.8" fill="none" stroke="#161616" stroke-width="1.6"/>
<path d="M934.4 79.7L934.4 96M936.1 79.1L950.1 83.5M943.1 81.4L943.1 98.9M951.5 77.1L950.3 102.9M946.9 80.6L948.6 83.5" fill="none" stroke="#161616" stroke-width="1.4"/>
<ellipse cx="945.4" cy="93.3" rx="1.3" ry="1.7" fill="#fff" stroke="#161616" stroke-width="1.2"/>
<path d="M905.3 101.2L909.7 99.4L910.6 101.5L907.1 102.9Z" fill="#fff" stroke="#161616" stroke-width="1.1"/>
<path d="M862.9 98.6C863.3 99.7 865 102.4 865.4 105.1C865.8 107.8 864.1 112.6 865.4 114.8C866.7 117.1 870.1 117.8 873.4 118.6C876.6 119.4 882.6 120.1 885 119.8C887.4 119.5 886 117.4 887.9 116.9C889.8 116.4 895 117.5 896.6 116.9C898.3 116.2 898 115.2 897.8 113.1C897.6 111 895.8 105.8 895.5 104.4" fill="#fff" stroke="#161616" stroke-width="1.6"/>
<path d="M862.3 110.2L865.8 109.3L865.8 115.1L862.6 115.4Z" fill="#fff" stroke="#161616" stroke-width="1.4"/>
<path d="M862.5 98.9C862.3 97.4 862.2 95.6 863.5 94.2C864.8 92.8 867.4 91.4 870.5 90.4C873.6 89.5 878.2 88.8 882.1 88.7C886 88.6 890.3 89.7 893.7 89.9C897.1 90 900 89.7 902.4 89.6C904.8 89.5 907.7 88.7 908.2 89.3C908.7 89.9 906.8 91.7 905.3 93C903.9 94.4 901 95.5 899.5 97.1C898.1 98.8 897.8 101.4 896.6 102.9C895.4 104.4 894.7 105.3 892.3 106.1C889.8 106.9 885.7 107.6 882.1 107.6C878.5 107.5 873.4 106.6 870.5 105.8C867.6 105.1 866 104.1 864.7 102.9C863.3 101.8 862.7 100.3 862.5 98.9Z" fill="#fff" stroke="#161616" stroke-width="1.6"/>
<ellipse cx="882.1" cy="99.4" rx="13.1" ry="6.1" fill="#fff" stroke="#161616" stroke-width="1.5"/>
<path d="M892 93.6L892.3 105.2" fill="none" stroke="#161616" stroke-width="1.1"/>
<path d="M870.2 101.5C870.7 100.7 871.4 98.2 873.4 97.1C875.4 96.1 879.2 95.2 882.1 95.1C885 94.9 889.4 96.1 890.8 96.2" fill="none" stroke="#161616" stroke-width="1.1"/>
<g transform="translate(831 120.8) rotate(-8)"><path d="M9.1 -2.2 L23 -2 L23 2 L9.1 2.2Z" fill="#fff" stroke="#161616" stroke-width="1.4"/><path d="M10.3 -2.2 L11.2 2.2M12.1 -2.2 L13 2.2M13.9 -2.2 L14.8 2.2M15.7 -2.2 L16.6 2.2M17.5 -2.2 L18.4 2.2M19.3 -2.2 L20.2 2.2M21.1 -2.2 L22 2.2" fill="none" stroke="#161616" stroke-width="1.2"/><ellipse cx="8.7" cy="0" rx="1.8" ry="6.4" fill="#fff" stroke="#161616" stroke-width="1.5"/><path d="M8 -4.8 L1.4 -4.8 Q0 -4.8 0 -3.4 L0 3.4 Q0 4.8 1.4 4.8 L8 4.8Z" fill="#fff" stroke="#161616" stroke-width="1.5"/><path d="M0.3 -1.2 L8 -1.2" fill="none" stroke="#161616" stroke-width="1.1"/></g>
<g transform="translate(930.6 139.6) rotate(242)"><path d="M9.9 -2.9 L21.8 -2.6 L21.8 2.6 L9.9 2.9Z" fill="#fff" stroke="#161616" stroke-width="1.4"/><path d="M11.1 -2.9 L12 2.9M12.9 -2.9 L13.8 2.9M14.7 -2.9 L15.6 2.9M16.5 -2.9 L17.4 2.9M18.3 -2.9 L19.2 2.9M20.1 -2.9 L21 2.9" fill="none" stroke="#161616" stroke-width="1.2"/><ellipse cx="9.6" cy="0" rx="1.7" ry="7" fill="#fff" stroke="#161616" stroke-width="1.5"/><ellipse cx="7.4" cy="0" rx="1.7" ry="7" fill="#fff" stroke="#161616" stroke-width="1.5"/><ellipse cx="5.2" cy="0" rx="1.7" ry="7" fill="#fff" stroke="#161616" stroke-width="1.5"/><path d="M4.5 -3.7 L1.4 -3.7 Q0 -3.7 0 -2.3 L0 2.3 Q0 3.7 1.4 3.7 L4.5 3.7Z" fill="#fff" stroke="#161616" stroke-width="1.5"/></g>
<path d="M119.6 136C117.7 135.1 111.5 130.8 108.3 130.6C105 130.5 102 132.6 100 135C97.9 137.3 96.5 141.9 96 144.9C95.4 148 95.8 150.7 96.6 153.2C97.5 155.7 97.9 158 101 159.9C104 161.8 112.6 163.7 114.9 164.5" fill="#fff" stroke="#161616" stroke-width="1.6"/>
<path d="M119.6 136L108.3 130.6L100 135L96 144.9L96.6 153.2L101 159.9L114.9 164.5L123.2 149.9Z" fill="#fff" stroke="#161616" stroke-width="0"/>
<path d="M119.6 136C117.7 135.1 111.5 130.8 108.3 130.6C105 130.5 102 132.6 100 135C97.9 137.3 96.5 141.9 96 144.9C95.4 148 95.8 150.7 96.6 153.2C97.5 155.7 97.9 158 101 159.9C104 161.8 112.6 163.7 114.9 164.5" fill="none" stroke="#161616" stroke-width="1.6"/>
<path d="M105.3 133C104.8 134.4 103 138.5 102.6 141.6C102.2 144.7 102.3 148.4 103 151.6C103.6 154.7 106 159 106.6 160.5" fill="none" stroke="#161616" stroke-width="1.2"/>
<path d="M107.9 132C107.5 133.6 105.7 138.2 105.3 141.6C104.9 145 104.9 148.8 105.6 152.2C106.3 155.7 108.9 160.5 109.6 162.2" fill="none" stroke="#161616" stroke-width="1.2"/>
<ellipse cx="120.2" cy="150.2" rx="9.3" ry="14.6" fill="#fff" stroke="#161616" stroke-width="1.6" transform="rotate(14 120.2 150.2)"/>
<ellipse cx="118.4" cy="147.4" rx="1.8" ry="2.2" fill="#fff" stroke="#161616" stroke-width="1.2" transform="rotate(10 118.4 147.4)"/>
<ellipse cx="124.5" cy="146.6" rx="1.3" ry="1.7" fill="#fff" stroke="#161616" stroke-width="1.2" transform="rotate(10 124.5 146.6)"/>
<ellipse cx="116.6" cy="155.9" rx="1.5" ry="1.8" fill="#fff" stroke="#161616" stroke-width="1.2" transform="rotate(10 116.6 155.9)"/>
<ellipse cx="122.7" cy="155.2" rx="1.8" ry="2.2" fill="#fff" stroke="#161616" stroke-width="1.2" transform="rotate(10 122.7 155.2)"/>
<path d="M187.1 143.6L193 139.9L195 141.6L195.3 163.2L200.9 171.2L204.6 180.6L204.6 191.1L198.8 197.7L187.1 203.1L180.5 202.4L163.1 194.7L156.4 195.6L147.3 191.4L144.8 193.1L144 201.1L140.6 203.1L137.3 202.1L128.2 191.8L127.9 173.5L130.2 169.5L135.8 168.5L157.1 177.5L157.4 182.1L163.1 179.1L179.7 186.8L185 185.8L186 176.8L189.3 170.8L185.3 164.2L185 145.9Z" fill="#fff" stroke="#161616" stroke-width="1.6"/>
<path d="M188 145.6L188.3 162.5L192.3 168.8L189.6 174.8L189.3 185.1L186.3 190.1L180.5 192.1L159.1 183.1" fill="none" stroke="#161616" stroke-width="1.2"/>
<path d="M193 140.9L193.3 162.5" fill="none" stroke="#161616" stroke-width="1.1"/>
<ellipse cx="190.8" cy="153.2" rx="1.2" ry="1.8" fill="#fff" stroke="#161616" stroke-width="1.2"/>
<path d="M163.1 183.1L163.7 190.8M179.7 190.8L180.3 198.1M185.7 191.4L186 199.1" fill="none" stroke="#161616" stroke-width="1.2"/>
<path d="M192 182.8C192.2 181.5 194.7 180.4 196.3 180.5C197.8 180.5 200.3 181.7 201.3 183.1C202.2 184.5 202.4 187.5 201.9 188.8C201.4 190 199.5 190.8 198.3 190.8C197.1 190.7 195.7 189.8 194.6 188.4C193.6 187.1 191.7 184.1 192 182.8Z" fill="#fff" stroke="#161616" stroke-width="1.4"/>
<path d="M196.3 181.5L198.6 189.8" fill="none" stroke="#161616" stroke-width="1.1"/>
<ellipse cx="198.8" cy="179.1" rx="1" ry="1" fill="#fff" stroke="#161616" stroke-width="1.1"/>
<ellipse cx="192.6" cy="192.4" rx="0.7" ry="0.8" fill="#fff" stroke="#161616" stroke-width="1.1"/>
<path d="M131.5 173.2L139.8 187.4L139.8 200.7M128.9 182.5L139.2 189.4M135.8 168.8L145.1 174.8L139.8 182.5M145.1 174.8L157.1 180.5M142.8 194.7L147.3 191.4" fill="none" stroke="#161616" stroke-width="1.2"/>
<path d="M130.7 189.1L135.5 189.8L135.5 194.4L130.9 193.4Z" fill="#fff" stroke="#161616" stroke-width="1.2"/>
<path d="M132.2 190.8L134.2 191.1L134.2 192.8L132.3 192.4Z" fill="#555" stroke="#161616" stroke-width="0.7"/>
<ellipse cx="136.8" cy="173.5" rx="1.2" ry="2.2" fill="#fff" stroke="#161616" stroke-width="1.2" transform="rotate(-20 136.8 173.5)"/>
<ellipse cx="148.5" cy="179.5" rx="1.2" ry="1.3" fill="#fff" stroke="#161616" stroke-width="1.2"/>
<g transform="translate(227.3 166.4) rotate(200.6)"><path d="M12.8 -2.4 L28.5 -2.2 L28.5 2.2 L12.8 2.4Z" fill="#fff" stroke="#161616" stroke-width="1.4"/><path d="M14 -2.4 L14.9 2.4M15.8 -2.4 L16.7 2.4M17.6 -2.4 L18.5 2.4M19.4 -2.4 L20.3 2.4M21.2 -2.4 L22.1 2.4M23 -2.4 L23.9 2.4M24.8 -2.4 L25.7 2.4M26.6 -2.4 L27.5 2.4" fill="none" stroke="#161616" stroke-width="1.2"/><ellipse cx="12.4" cy="0" rx="1.8" ry="6.4" fill="#fff" stroke="#161616" stroke-width="1.5"/><ellipse cx="10.2" cy="0" rx="1.8" ry="6.4" fill="#fff" stroke="#161616" stroke-width="1.5"/><path d="M9.5 -4.8 L1.4 -4.8 Q0 -4.8 0 -3.4 L0 3.4 Q0 4.8 1.4 4.8 L9.5 4.8Z" fill="#fff" stroke="#161616" stroke-width="1.5"/></g>
<g transform="translate(242.3 196.6) rotate(202.6)"><rect x="14.5" y="-2.8" width="8" height="5.6" rx="0.8" fill="#fff" stroke="#161616" stroke-width="1.4"/><path d="M16 -2.8 L16.6 2.8M17.6 -2.8 L18.2 2.8M19.2 -2.8 L19.8 2.8M20.8 -2.8 L21.4 2.8" stroke="#161616" stroke-width="1.2" fill="none"/><path d="M7 -3.7 L11.5 -4.8 L15 -3.2 L15 3.2 L11.5 4.8 L7 3.7Z" fill="#fff" stroke="#161616" stroke-width="1.5"/><path d="M11.5 -4.8 L11.5 4.8 M8 -0.9 L15 -0.9" fill="none" stroke="#161616" stroke-width="1.1"/><rect x="0" y="-4.9" width="8" height="9.8" rx="2" fill="#fff" stroke="#161616" stroke-width="1.5"/><ellipse cx="8" cy="0" rx="1.6" ry="4.9" fill="#fff" stroke="#161616" stroke-width="1.2"/></g>
<path d="M241.8 142.6C241.4 144.3 240.6 149.9 240.8 151.6C241.1 153.3 242.7 153.3 243.3 152.8C243.9 152.3 244.1 150 244.3 148.6C244.5 147.2 244.2 145.4 244.6 144.5C245.1 143.5 246 143 246.8 143C247.6 143 249.1 143.7 249.3 144.5C249.4 145.3 248 146.1 247.6 147.8C247.3 149.4 246.8 153 247.1 154.3C247.4 155.5 248.7 156.1 249.3 155.2C249.9 154.4 250.3 150.5 250.6 148.9C251 147.4 251.9 146.9 251.4 145.8C250.9 144.7 249 143 247.6 142.3C246.3 141.6 244.4 141.6 243.5 141.6C242.5 141.7 242.3 141 241.8 142.6Z" fill="#fff" stroke="#161616" stroke-width="1.4"/>
<path d="M259.2 157.2L270.9 157.9L270.9 168.2L259.6 170.9Z" fill="#fff" stroke="#161616" stroke-width="1.5"/>
<ellipse cx="268.1" cy="163.2" rx="1.2" ry="5.5" fill="#fff" stroke="#161616" stroke-width="1.5" transform="rotate(4 268.1 163.2)"/>
<ellipse cx="265.1" cy="163.4" rx="1.2" ry="6.1" fill="#fff" stroke="#161616" stroke-width="1.5" transform="rotate(4 265.1 163.4)"/>
<ellipse cx="262.1" cy="163.7" rx="1.3" ry="6.8" fill="#fff" stroke="#161616" stroke-width="1.5" transform="rotate(4 262.1 163.7)"/>
<ellipse cx="257.1" cy="164.2" rx="2.5" ry="8.5" fill="#fff" stroke="#161616" stroke-width="1.6" transform="rotate(6 257.1 164.2)"/>
<ellipse cx="255.3" cy="164.5" rx="2.5" ry="8.3" fill="#fff" stroke="#161616" stroke-width="1.6" transform="rotate(6 255.3 164.5)"/>
<path d="M247.6 161.1L254.8 160.2L254.8 169.2L247.6 172.4Z" fill="#fff" stroke="#161616" stroke-width="1.4"/>
<ellipse cx="247.1" cy="166.7" rx="4" ry="7.3" fill="#fff" stroke="#161616" stroke-width="1.6" transform="rotate(8 247.1 166.7)"/>
<ellipse cx="245.1" cy="166.9" rx="4.5" ry="7.5" fill="#fff" stroke="#161616" stroke-width="1.9" transform="rotate(8 245.1 166.9)"/>
<ellipse cx="244.6" cy="167.2" rx="2.5" ry="4.6" fill="#fff" stroke="#161616" stroke-width="1.4" transform="rotate(8 244.6 167.2)"/>
<ellipse cx="244.5" cy="167.5" rx="1" ry="2" fill="#fff" stroke="#161616" stroke-width="1.1" transform="rotate(8 244.5 167.5)"/>
<g transform="translate(367.8 184.2) rotate(90)"><path d="M8.6 -3.1 L25.3 -2.8 L25.3 2.8 L8.6 3.1Z" fill="#fff" stroke="#161616" stroke-width="1.4"/><path d="M9.8 -3.1 L10.7 3.1M11.6 -3.1 L12.5 3.1M13.4 -3.1 L14.3 3.1M15.2 -3.1 L16.1 3.1M17 -3.1 L17.9 3.1M18.8 -3.1 L19.7 3.1M20.6 -3.1 L21.5 3.1M22.4 -3.1 L23.3 3.1M24.2 -3.1 L25.1 3.1" fill="none" stroke="#161616" stroke-width="1.2"/><ellipse cx="8.3" cy="0" rx="1.9" ry="7.4" fill="#fff" stroke="#161616" stroke-width="1.5"/><path d="M7.5 -5.3 L1.4 -5.3 Q0 -5.3 0 -3.9 L0 3.9 Q0 5.3 1.4 5.3 L7.5 5.3Z" fill="#fff" stroke="#161616" stroke-width="1.5"/><path d="M0.3 -1.3 L7.5 -1.3" fill="none" stroke="#161616" stroke-width="1.1"/></g>
<g transform="translate(394.4 190.6) rotate(89)"><path d="M8.2 -3.4 L22 -3.1 L22 3.1 L8.2 3.4Z" fill="#fff" stroke="#161616" stroke-width="1.4"/><path d="M9.4 -3.4 L10.3 3.4M11.2 -3.4 L12.1 3.4M13 -3.4 L13.9 3.4M14.8 -3.4 L15.7 3.4M16.6 -3.4 L17.5 3.4M18.4 -3.4 L19.3 3.4M20.2 -3.4 L21.1 3.4" fill="none" stroke="#161616" stroke-width="1.2"/><ellipse cx="7.8" cy="0" rx="2" ry="7.6" fill="#fff" stroke="#161616" stroke-width="1.5"/><path d="M7 -5.8 L1.4 -5.8 Q0 -5.8 0 -4.4 L0 4.4 Q0 5.8 1.4 5.8 L7 5.8Z" fill="#fff" stroke="#161616" stroke-width="1.5"/><path d="M0.3 -1.4 L7 -1.4" fill="none" stroke="#161616" stroke-width="1.1"/></g>
<path d="M393.4 214.5L396.6 214.5L396.4 218.2L395 219.3L393.6 218.2Z" fill="#fff" stroke="#161616" stroke-width="1.4"/>
<path d="M381.6 225.9L381.6 215.7L394.8 221.1" fill="none" stroke="#161616" stroke-width="1.2"/>
<path d="M361.2 217.5C361.3 218.1 360.5 220.3 361.7 221.4C362.9 222.4 366.2 223.8 368.5 223.9C370.8 223.9 374.3 222.7 375.6 221.6C376.9 220.5 376.2 218.2 376.3 217.5" fill="#fff" stroke="#161616" stroke-width="1.6"/>
<ellipse cx="368.8" cy="217.3" rx="7.5" ry="3.9" fill="#fff" stroke="#161616" stroke-width="1.6"/>
<ellipse cx="368.5" cy="216.8" rx="3.4" ry="1.5" fill="#fff" stroke="#161616" stroke-width="1.4"/>
<path d="M418.9 236.5L424.9 234.2L428.3 235.5L429 239.6L425.1 242.6L419.7 243.8Z" fill="#fff" stroke="#161616" stroke-width="1.5"/>
<path d="M423.7 234.6L424.2 242.8M426.2 234.9L426.7 241.7" fill="none" stroke="#161616" stroke-width="1.2"/>
<path d="M408.3 235L413.5 233.3L419.2 236.1L419.7 243L414.6 245.4L408.9 243.5Z" fill="#fff" stroke="#161616" stroke-width="1.5"/>
<path d="M411.4 234.2L411.9 244.4M414.8 233.9L415.3 244.9" fill="none" stroke="#161616" stroke-width="1.2"/>
<path d="M387.9 241.9L392.9 239.9L408.3 237.8L408.9 244.2L389 248.8Z" fill="#fff" stroke="#161616" stroke-width="1.5"/>
<path d="M390.9 240.8L391.8 248.1M394.3 239.6L395.2 247.4M397.7 239.2L398.6 246.7M401.1 238.7L402.1 246" fill="none" stroke="#161616" stroke-width="1.8"/>
<path d="M377.6 246.7L387.9 243.1L388.8 247.4L379.2 249.5Z" fill="#fff" stroke="#161616" stroke-width="1.4"/>
<path d="M361 249.2C361.1 250 360 252.2 361.4 253.6C362.9 254.9 366.8 257.4 369.5 257.4C372.2 257.5 376.2 255.1 377.6 253.8C379.1 252.5 378 250.2 378.1 249.5" fill="#fff" stroke="#161616" stroke-width="1.6"/>
<ellipse cx="369.5" cy="249.2" rx="8.6" ry="3.9" fill="#fff" stroke="#161616" stroke-width="1.6"/>
<ellipse cx="369.5" cy="248.7" rx="3.2" ry="1.4" fill="#fff" stroke="#161616" stroke-width="1.4"/>
<path d="M368.4 233.8L371.2 229.8L382.7 224.7L405.5 222.4L415.7 225.8L427.2 232.1L428.9 237.8L427.2 241.8L419.2 243.5L418 236.7L408.9 232.7L404.3 232.1L395.2 233.3L388.4 236.7L382.7 240.7L377 238.4L369.5 236.1Z" fill="#fff" stroke="#161616" stroke-width="1.6"/>
<path d="M371.8 232.1L382.7 237.3L394.1 231L404.3 229.8L409.1 231.2M383.8 226L394.3 229.4" fill="none" stroke="#161616" stroke-width="1.2"/>
<ellipse cx="381.5" cy="230.5" rx="3.2" ry="1.9" fill="#333" stroke="#161616" stroke-width="1.1" transform="rotate(-10 381.5 230.5)"/>
<path d="M357.6 269.8C358 269.1 359.9 268.1 360.3 267.3C360.7 266.4 360.4 263.2 361 262.5C361.5 261.8 364.1 261 364.9 261.3C365.6 261.6 366.2 264.7 367.4 265.2C368.5 265.7 373.2 265.5 374.7 265.9C376.2 266.3 379.3 268.5 380.4 268.6C381.5 268.8 383.7 267 384.3 267.3C384.8 267.5 385.5 270.2 385.2 270.9C384.8 271.6 382.3 272.7 381.5 273.4C380.7 274.1 379.7 276.3 378.1 276.8C376.5 277.4 370 278.2 367.8 278.2C365.7 278.2 361.1 277.4 359.8 276.8C358.6 276.3 357.1 274.2 356.9 273.4C356.6 272.6 357.2 270.5 357.6 269.8Z" fill="#fff" stroke="#161616" stroke-width="1.6"/>
<path d="M357.8 272.1C358.5 272.5 360.2 274.2 362.1 274.8C364.1 275.4 366.9 275.8 369.5 275.7C372.2 275.6 375.9 275 378.1 274.3C380.3 273.7 381.9 272.1 382.7 271.6" fill="none" stroke="#161616" stroke-width="1.2"/>
<ellipse cx="369.5" cy="270.7" rx="4.3" ry="1.7" fill="#fff" stroke="#161616" stroke-width="1.4"/>
<g transform="translate(331.2 242.2) rotate(89)"><path d="M10.7 -3.1 L34.5 -2.8 L34.5 2.8 L10.7 3.1Z" fill="#fff" stroke="#161616" stroke-width="1.4"/><path d="M11.9 -3.1 L12.8 3.1M13.7 -3.1 L14.6 3.1M15.5 -3.1 L16.4 3.1M17.3 -3.1 L18.2 3.1M19.1 -3.1 L20 3.1M20.9 -3.1 L21.8 3.1M22.7 -3.1 L23.6 3.1M24.5 -3.1 L25.4 3.1M26.3 -3.1 L27.2 3.1M28.1 -3.1 L29 3.1M29.9 -3.1 L30.8 3.1M31.7 -3.1 L32.6 3.1M33.5 -3.1 L34.4 3.1" fill="none" stroke="#161616" stroke-width="1.2"/><ellipse cx="10.4" cy="0" rx="1.9" ry="8.2" fill="#fff" stroke="#161616" stroke-width="1.5"/><ellipse cx="7.8" cy="0" rx="1.9" ry="8.2" fill="#fff" stroke="#161616" stroke-width="1.5"/><path d="M7 -4.8 L1.4 -4.8 Q0 -4.8 0 -3.4 L0 3.4 Q0 4.8 1.4 4.8 L7 4.8Z" fill="#fff" stroke="#161616" stroke-width="1.5"/><path d="M0.3 -1.2 L7 -1.2" fill="none" stroke="#161616" stroke-width="1.1"/></g>
<path d="M388.1 305.2C388.8 305.5 388.8 311.4 388.1 312.7C387.3 314.1 381.5 316.9 380.7 318.4C379.9 319.8 380.1 325.1 380.1 327.4C380 329.6 380.5 339 380.1 340.9C379.6 342.8 377.2 345.7 375.9 346.3C374.7 346.9 369 347.2 367.5 347C366 346.7 361.6 344.1 360.6 343.7C359.5 343.3 357.4 343.1 356.7 342.9C355.9 342.6 353 342.2 353.4 340.9C353.8 339.6 359.9 330.7 361 329.6C362.1 328.6 364.1 331 364.5 330.3C364.8 329.6 363.9 324.1 364.2 322.5C364.5 320.8 365.9 315.1 367.5 313.8C369.1 312.5 378.4 310.4 380.5 309.5C382.5 308.6 387.3 304.8 388.1 305.2Z" fill="#fff" stroke="#161616" stroke-width="1.6"/>
<path d="M372.9 306.2C372.9 305.2 372.5 301.5 372.9 300C373.3 298.4 374.1 297.5 375.1 296.8C376 296.2 377.6 296 378.8 296.2C379.9 296.4 381.3 296.5 382 298C382.7 299.5 382.7 304 382.9 305.2" fill="#fff" stroke="#161616" stroke-width="1.6"/>
<path d="M376.6 305.2C376.6 304.2 376.5 300.6 376.8 299.5C377.1 298.4 377.8 298.6 378.3 298.7C378.8 298.7 379.6 298.7 379.8 299.7C380.1 300.8 379.8 304.3 379.8 305.2" fill="#fff" stroke="#161616" stroke-width="1.2"/>
<path d="M382.7 301.3C383 301 384 299.9 384.8 300C385.6 300.1 386.9 300.9 387.4 301.9C388 302.9 388 305.2 388.1 305.8" fill="#fff" stroke="#161616" stroke-width="1.6"/>
<ellipse cx="371.4" cy="311.2" rx="7.8" ry="3.5" fill="#fff" stroke="#161616" stroke-width="1.5" transform="rotate(-8 371.4 311.2)"/>
<ellipse cx="370.7" cy="310.6" rx="3.2" ry="1.4" fill="#444" stroke="#161616" stroke-width="1.1" transform="rotate(-8 370.7 310.6)"/>
<path d="M349.1 309.5L349.7 315.6L352.5 319.2L353 324.7L358.3 326.4L364 325.7L363.8 317.1L363.4 309.5Z" fill="#fff" stroke="#161616" stroke-width="1.5"/>
<path d="M352.5 319.2L358.2 320.8L363.4 317.7M358.2 320.8L358.4 326.4" fill="none" stroke="#161616" stroke-width="1.2"/>
<path d="M349.7 313.2C350.8 313.6 354 315.6 356.2 315.6C358.4 315.6 361.8 313.6 362.9 313.2" fill="none" stroke="#161616" stroke-width="2.2"/>
<ellipse cx="356.2" cy="308" rx="7.1" ry="3.4" fill="#fff" stroke="#161616" stroke-width="1.6"/>
<ellipse cx="356.7" cy="307.3" rx="4.3" ry="1.6" fill="#555" stroke="#161616" stroke-width="1.1"/>
<path d="M366 315.6L364.9 325.7L366 331.6" fill="none" stroke="#161616" stroke-width="1.2"/>
<ellipse cx="356.7" cy="336.6" rx="5" ry="6.1" fill="#fff" stroke="#161616" stroke-width="1.8" transform="rotate(10 356.7 336.6)"/>
<ellipse cx="356.2" cy="336.6" rx="2.7" ry="3.5" fill="#fff" stroke="#161616" stroke-width="1.4" transform="rotate(10 356.2 336.6)"/>
<ellipse cx="356" cy="336.8" rx="1.1" ry="1.7" fill="#555" stroke="#161616" stroke-width="0.8" transform="rotate(10 356 336.8)"/>
<path d="M361 330.7C362.1 330.9 365.7 331.2 367.5 332C369.3 332.8 370.8 334.2 371.8 335.5C372.9 336.8 373.4 339.3 373.8 340" fill="none" stroke="#161616" stroke-width="1.4"/>
<path class="t" d="M316.2 321.8C315.3 321.2 312.6 318.8 310.8 318C309 317.2 307.4 317.2 305.4 317.2C303.4 317.2 300.6 317.5 298.8 318C297 318.5 297.4 318.3 294.5 320.2C291.6 322.1 284.1 326.9 281.4 329.4C278.7 331.8 279.4 332.3 278.1 334.9C276.8 337.4 275.7 341.2 273.8 344.7C271.9 348.2 269.4 352.2 266.8 356.1C264.2 360 259.9 365 258.1 368.1C256.3 371.2 256.4 370 255.9 374.5C255.3 379 254.7 389.5 254.8 394.9C255 400.3 256.1 403.3 256.8 406.8C257.5 410.3 258.8 414.2 259.2 415.7" fill="none" stroke="#161616" stroke-width="4.8" stroke-linecap="butt"/>
<path class="t" d="M316.2 321.8C315.3 321.2 312.6 318.8 310.8 318C309 317.2 307.4 317.2 305.4 317.2C303.4 317.2 300.6 317.5 298.8 318C297 318.5 297.4 318.3 294.5 320.2C291.6 322.1 284.1 326.9 281.4 329.4C278.7 331.8 279.4 332.3 278.1 334.9C276.8 337.4 275.7 341.2 273.8 344.7C271.9 348.2 269.4 352.2 266.8 356.1C264.2 360 259.9 365 258.1 368.1C256.3 371.2 256.4 370 255.9 374.5C255.3 379 254.7 389.5 254.8 394.9C255 400.3 256.1 403.3 256.8 406.8C257.5 410.3 258.8 414.2 259.2 415.7" fill="none" stroke="#fff" stroke-width="1.8" stroke-linecap="butt"/>
<path d="M305.8 319.2C305.8 320.2 302.9 323.7 301 326.1C299.1 328.6 296.6 331.7 294.5 334C292.3 336.3 289.6 338.7 287.9 339.9C286.3 341 285.2 341.2 284.4 341C283.7 340.7 283 339.7 283.6 338.3C284.1 337 285.7 335.1 287.9 332.7C290.1 330.3 294.5 326 296.6 324C298.8 321.9 299.5 321.1 301 320.3C302.5 319.5 305.8 318.2 305.8 319.2Z" fill="#fff" stroke="#161616" stroke-width="1.6"/>
<g transform="translate(315.4 321.2) rotate(24)"><rect x="7.5" y="-2.8" width="7" height="5.6" rx="0.8" fill="#fff" stroke="#161616" stroke-width="1.4"/><path d="M8.7 -2.8 L8.7 2.8M10.3 -2.8 L10.3 2.8M11.9 -2.8 L11.9 2.8M13.5 -2.8 L13.5 2.8" stroke="#161616" stroke-width="1.2" fill="none"/><path d="M0 -3.8 L5.6 -4.8 L7.5 -3.4 L7.5 3.4 L5.6 4.8 L0 3.8Z" fill="#fff" stroke="#161616" stroke-width="1.5"/><path d="M5.6 -4.8 L5.6 4.8 M0.5 -0.7 L5.6 -1" fill="none" stroke="#161616" stroke-width="1.1"/></g>
<g transform="translate(258.6 414.8) rotate(77)"><rect x="8" y="-3" width="8" height="6" rx="0.8" fill="#fff" stroke="#161616" stroke-width="1.4"/><path d="M9.2 -3 L9.2 3M10.8 -3 L10.8 3M12.4 -3 L12.4 3M14 -3 L14 3M15.6 -3 L15.6 3" stroke="#161616" stroke-width="1.2" fill="none"/><path d="M0 -4.5 L6 -5.6 L8 -3.9 L8 3.9 L6 5.6 L0 4.5Z" fill="#fff" stroke="#161616" stroke-width="1.5"/><path d="M6 -5.6 L6 5.6 M0.5 -0.8 L6 -1.1" fill="none" stroke="#161616" stroke-width="1.1"/></g>
<g transform="translate(247 311.8) rotate(25.5)"><rect x="15" y="-3" width="9" height="6" rx="0.8" fill="#fff" stroke="#161616" stroke-width="1.4"/><path d="M16.5 -3 L17.1 3M18.1 -3 L18.7 3M19.7 -3 L20.3 3M21.3 -3 L21.9 3M22.9 -3 L23.5 3" stroke="#161616" stroke-width="1.2" fill="none"/><path d="M7 -4.2 L11.8 -5.5 L15.5 -3.6 L15.5 3.6 L11.8 5.5 L7 4.2Z" fill="#fff" stroke="#161616" stroke-width="1.5"/><path d="M11.8 -5.5 L11.8 5.5 M8 -1 L15.5 -1" fill="none" stroke="#161616" stroke-width="1.1"/><rect x="0" y="-4.9" width="8" height="9.8" rx="2" fill="#fff" stroke="#161616" stroke-width="1.5"/><ellipse cx="8" cy="0" rx="1.6" ry="4.9" fill="#fff" stroke="#161616" stroke-width="1.2"/></g>
<path d="M304.4 338.2L308.2 336.5L317.4 335.4L320.2 337.1L320.2 349.6L316.9 353.4L307.6 357.2L303.8 356.7L301.1 354L301.6 350.7L304.4 348Z" fill="#fff" stroke="#161616" stroke-width="1.6"/>
<path d="M307.6 337.6L308.2 351.8L304.4 354.6M310.4 338.7L310.4 351.8M308.2 353.5L316.9 350.7M310.4 338.7L317.5 336.8" fill="none" stroke="#161616" stroke-width="1.2"/>
<ellipse cx="314.2" cy="343.6" rx="1.2" ry="1.6" fill="#fff" stroke="#161616" stroke-width="1.2"/>
<path d="M322.9 347.4L326.1 345.8L331 346.3L331.6 344.2L335.4 343.3L337.6 345.2L337.6 362.7L335.4 364.9L328.9 367L325.6 367.6L322.9 363.8Z" fill="#fff" stroke="#161616" stroke-width="1.6"/>
<path d="M325.6 348L326.1 365.1" fill="none" stroke="#161616" stroke-width="1.2"/>
<ellipse cx="332.1" cy="351.8" rx="1.9" ry="2.3" fill="#fff" stroke="#161616" stroke-width="2.2"/>
<ellipse cx="318.2" cy="372.7" rx="8.9" ry="10.7" fill="#fff" stroke="#161616" stroke-width="1.6" transform="rotate(25 318.2 372.7)"/>
<ellipse cx="319.7" cy="373.4" rx="7.6" ry="9.8" fill="#fff" stroke="#161616" stroke-width="1.4" transform="rotate(25 319.7 373.4)"/>
<ellipse cx="320.4" cy="374.7" rx="4.1" ry="6.1" fill="#fff" stroke="#161616" stroke-width="1.6" transform="rotate(20 320.4 374.7)"/>
<path d="M318.6 370.5C318.9 371.4 320.1 374.1 320.2 375.7C320.2 377.3 319.2 379.4 319.1 380.1" fill="none" stroke="#161616" stroke-width="1.2"/>
<path d="M236.9 486.3L246.3 487.5L274.8 502.6L274 508.3L261.5 502.6L247.5 495.8Z" fill="#fff" stroke="#161616" stroke-width="0"/>
<ellipse cx="241.8" cy="494.3" rx="6.8" ry="8.7" fill="#fff" stroke="#161616" stroke-width="1.8"/>
<ellipse cx="241" cy="494.3" rx="1.9" ry="2.7" fill="#fff" stroke="#161616" stroke-width="1.4"/>
<ellipse cx="267.6" cy="506.8" rx="7.6" ry="8.7" fill="#fff" stroke="#161616" stroke-width="1.8"/>
<ellipse cx="266.4" cy="506.8" rx="1.9" ry="2.7" fill="#fff" stroke="#161616" stroke-width="1.4"/>
<path d="M247.5 490.1L261.9 497.7M246.7 499.2L261.1 505.7" fill="none" stroke="#161616" stroke-width="1.5"/>
<path d="M240.3 455.6L265.7 468.5L282.3 477.8L291.8 490.1L282.3 504.5L272.5 499.6L233.1 479.1Z" fill="#fff" stroke="#161616" stroke-width="1.6"/>
<ellipse cx="282.3" cy="491.3" rx="9.5" ry="13.3" fill="#fff" stroke="#161616" stroke-width="1.6"/>
<path d="M264.3 464L266.4 479.1L274.8 481.8L286.1 478.4L281.4 464Z" fill="#fff" stroke="#161616" stroke-width="1.5"/>
<ellipse cx="272.9" cy="464" rx="8.5" ry="4.2" fill="#fff" stroke="#161616" stroke-width="1.6"/>
<ellipse cx="272.9" cy="464" rx="4.2" ry="1.9" fill="#fff" stroke="#161616" stroke-width="1.2"/>
<ellipse cx="262.6" cy="484.4" rx="5.3" ry="6.8" fill="#fff" stroke="#161616" stroke-width="1.6"/>
<ellipse cx="261.9" cy="484.8" rx="2.3" ry="3.4" fill="#fff" stroke="#161616" stroke-width="1.2"/>
<ellipse cx="237.2" cy="468.5" rx="5.7" ry="12.9" fill="#fff" stroke="#161616" stroke-width="2.3" transform="rotate(34 237.2 468.5)"/>
<ellipse cx="235" cy="467" rx="5.3" ry="12.1" fill="#fff" stroke="#161616" stroke-width="1.6" transform="rotate(34 235 467)"/>
<ellipse cx="230.4" cy="464.4" rx="6.1" ry="12.9" fill="#fff" stroke="#161616" stroke-width="2.3" transform="rotate(34 230.4 464.4)"/>
<ellipse cx="227.4" cy="462.1" rx="4.5" ry="9.9" fill="#fff" stroke="#161616" stroke-width="1.6" transform="rotate(34 227.4 462.1)"/>
<ellipse cx="222.8" cy="459" rx="6.1" ry="12.5" fill="#fff" stroke="#161616" stroke-width="2.3" transform="rotate(34 222.8 459)"/>
<ellipse cx="219.8" cy="456.8" rx="4.5" ry="9.5" fill="#fff" stroke="#161616" stroke-width="1.6" transform="rotate(34 219.8 456.8)"/>
<ellipse cx="215.3" cy="453.4" rx="5.7" ry="11.4" fill="#fff" stroke="#161616" stroke-width="2.3" transform="rotate(34 215.3 453.4)"/>
<ellipse cx="212.6" cy="451.5" rx="3.8" ry="8" fill="#fff" stroke="#161616" stroke-width="1.6" transform="rotate(34 212.6 451.5)"/>
<ellipse cx="208.8" cy="448.8" rx="4.7" ry="8.7" fill="#fff" stroke="#161616" stroke-width="2.3" transform="rotate(34 208.8 448.8)"/>
<path d="M199.7 437.4L208.4 441.2L205 451.8L197.4 448.1Z" fill="#fff" stroke="#161616" stroke-width="1.5"/>
<ellipse cx="198.2" cy="442" rx="5.1" ry="6.8" fill="#fff" stroke="#161616" stroke-width="2.3" transform="rotate(34 198.2 442)"/>
<g transform="translate(190.6 512.8) rotate(-5)"><path d="M17.3 -3.4 L29.5 -3.1 L29.5 3.1 L17.3 3.4Z" fill="#fff" stroke="#161616" stroke-width="1.4"/><path d="M18.5 -3.4 L19.4 3.4M20.3 -3.4 L21.2 3.4M22.1 -3.4 L23 3.4M23.9 -3.4 L24.8 3.4M25.7 -3.4 L26.6 3.4M27.5 -3.4 L28.4 3.4" fill="none" stroke="#161616" stroke-width="1.2"/><ellipse cx="16.9" cy="0" rx="2.2" ry="7.6" fill="#fff" stroke="#161616" stroke-width="1.5"/><ellipse cx="13.9" cy="0" rx="2.2" ry="7.6" fill="#fff" stroke="#161616" stroke-width="1.5"/><ellipse cx="10.9" cy="0" rx="2.2" ry="7.6" fill="#fff" stroke="#161616" stroke-width="1.5"/><path d="M10 -5.6 L1.4 -5.6 Q0 -5.6 0 -4.2 L0 4.2 Q0 5.6 1.4 5.6 L10 5.6Z" fill="#fff" stroke="#161616" stroke-width="1.5"/></g>
<path d="M145.5 455.4L153 456.1L153.5 465.2L145.5 465.9Z" fill="#fff" stroke="#161616" stroke-width="1.5"/>
<ellipse cx="153" cy="460.7" rx="2" ry="4.5" fill="#fff" stroke="#161616" stroke-width="1.4"/>
<ellipse cx="145.5" cy="460.7" rx="2.5" ry="5.3" fill="#fff" stroke="#161616" stroke-width="1.8"/>
<g transform="translate(158.3 461.3) rotate(11.5)">
<rect x="0" y="-3.2" width="9" height="6.4" rx="2" fill="#fff" stroke="#161616" stroke-width="1.5"/>
<rect x="9" y="-4.2" width="5" height="8.4" rx="1" fill="#fff" stroke="#161616" stroke-width="1.5"/>
<rect x="14" y="-2.6" width="15" height="5.2" rx="1" fill="#fff" stroke="#161616" stroke-width="1.4"/>
<path d="M16 -2.6V2.6M18 -2.6V2.6M20 -2.6V2.6M22 -2.6V2.6M24 -2.6V2.6M26 -2.6V2.6M11.5 -4.2V4.2M3 -3.2V3.2" stroke="#161616" stroke-width="1.2" fill="none"/>
</g>
<path d="M8.1 511.4L10.8 515.2L30.9 503.3L36.8 516.3L17.9 526.6L19.5 530.9L3.2 527.7Z" fill="#111" stroke="#161616" stroke-width="1.1"/>
<path d="M261.9 113.9L267 114.8L266.7 117.4L262.6 117.1Z" fill="#fff" stroke="#161616" stroke-width="1.4"/>
<path d="M270.7 93.6L281.5 89.8L283.2 93L282.4 96.5L272.2 100Z" fill="#fff" stroke="#161616" stroke-width="1.5"/>
<path d="M274.2 92.4L275.7 98.8M277.7 91.2L279.2 97.6" fill="none" stroke="#161616" stroke-width="1.2"/>
<path d="M261.2 96.5L270.7 93.6L272.2 100L275.1 100.5L275.1 109.8L271.3 113.9L264.1 113.9L261.2 112.4Z" fill="#fff" stroke="#161616" stroke-width="1.6"/>
<path d="M263.5 97.9L263.8 112.7M263.5 102.3L271.3 99.7" fill="none" stroke="#161616" stroke-width="1.2"/>
<ellipse cx="269.3" cy="108.1" rx="1.3" ry="1.9" fill="#fff" stroke="#161616" stroke-width="1.2" transform="rotate(20 269.3 108.1)"/>
<g transform="translate(301.8 122.6) rotate(207)"><path d="M9.8 -2.4 L24 -2.2 L24 2.2 L9.8 2.4Z" fill="#fff" stroke="#161616" stroke-width="1.4"/><path d="M11 -2.4 L11.9 2.4M12.8 -2.4 L13.7 2.4M14.6 -2.4 L15.5 2.4M16.4 -2.4 L17.3 2.4M18.2 -2.4 L19.1 2.4M20 -2.4 L20.9 2.4M21.8 -2.4 L22.7 2.4" fill="none" stroke="#161616" stroke-width="1.2"/><ellipse cx="9.4" cy="0" rx="1.8" ry="6.6" fill="#fff" stroke="#161616" stroke-width="1.5"/><ellipse cx="7.2" cy="0" rx="1.8" ry="6.6" fill="#fff" stroke="#161616" stroke-width="1.5"/><path d="M6.5 -4.4 L1.4 -4.4 Q0 -4.4 0 -3 L0 3 Q0 4.4 1.4 4.4 L6.5 4.4Z" fill="#fff" stroke="#161616" stroke-width="1.5"/></g>
<path d="M558.4 389.8L582.1 383.6L582.6 386.6L559.7 392.6Z" fill="#fff" stroke="#161616" stroke-width="1.4"/>
<path d="M560.9 382.8L573.4 377.4L575.3 382.5L562.7 387.8Z" fill="#fff" stroke="#161616" stroke-width="1.5"/>
<path d="M562.6 382.1L564.3 387.1M564.4 381.3L566.1 386.4M566.2 380.5L567.9 385.6M568 379.7L569.7 384.9M569.8 378.9L571.5 384.1M571.6 378.2L573.3 383.3" fill="none" stroke="#161616" stroke-width="1.4"/>
<path d="M513.6 395L529.6 381.2L553.5 379L558.2 383.1L558.2 392.4L546 416.1L541.9 418L521.6 413.9Z" fill="#fff" stroke="#161616" stroke-width="1.9"/>
<path d="M531.2 383.1L552.9 381.1L556.1 384" fill="none" stroke="#161616" stroke-width="1.1"/>
<ellipse cx="550" cy="389.2" rx="2" ry="2.9" fill="#fff" stroke="#161616" stroke-width="1.4" transform="rotate(-15 550 389.2)"/>
<path d="M528.1 390.1L512.3 395.9L505.6 398.8L503.6 426.1L536.7 417.1L541.9 408.1L536.1 393.6Z" fill="#fff" stroke="#161616" stroke-width="0"/>
<path d="M536.7 417.1L503.6 426.1M513.6 395L520.1 397.9" fill="none" stroke="#161616" stroke-width="1.8"/>
<path d="M527.4 390.4C528.9 391.6 534.6 395 536.7 397.9C538.8 400.9 539.8 404.9 539.9 408.1C539.9 411.2 537.4 415.4 537 416.8" fill="none" stroke="#161616" stroke-width="1.6"/>
<path d="M530.9 392.4C531.6 393.6 534.3 396.8 535.2 399.4C536.2 402 536.8 405.4 536.7 408.1C536.6 410.8 535 414.1 534.6 415.4" fill="none" stroke="#161616" stroke-width="1.2"/>
<path d="M480.1 418.2C478.6 420.8 478.8 422.5 479.4 424.4C480.1 426.3 482 428.8 484.2 429.5C486.3 430.3 489.6 429.6 492.4 428.7C495.2 427.9 499.1 426.5 500.8 424.4C502.6 422.3 503.5 418.7 503.1 416.2C502.7 413.6 501 410.2 498.6 409C496.1 407.8 491.4 407.4 488.3 409C485.2 410.5 481.5 415.6 480.1 418.2Z" fill="#fff" stroke="#161616" stroke-width="1.6"/>
<ellipse cx="484.8" cy="422.9" rx="1.4" ry="2.1" fill="#fff" stroke="#161616" stroke-width="1.4"/>
<path d="M489.3 420.3C490 421.1 491.6 425.1 493.4 425.4C495.2 425.8 499 422.8 500.1 422.3" fill="none" stroke="#161616" stroke-width="1.2"/>
<path d="M489.5 393.3C488 393.2 485.3 395.3 484.2 397C483 398.7 482.3 401.5 482.5 403.4C482.8 405.2 484.3 407.7 485.8 408.1C487.3 408.5 490.1 407.6 491.4 405.9C492.6 404.1 493.7 399.7 493.4 397.6C493.1 395.5 491.1 393.4 489.5 393.3Z" fill="#fff" stroke="#161616" stroke-width="1.6"/>
<path d="M487.8 404.8L493.4 402.3L502.7 404.8L503.7 409L500.6 414.1L491.4 416.2L487.8 411Z" fill="#fff" stroke="#161616" stroke-width="1.6"/>
<path d="M493.4 402.4L494.3 415.5M488.3 407.9L503.3 407.1" fill="none" stroke="#161616" stroke-width="1.2"/>
<path d="M493.4 386.5C493.6 384.1 495.7 383 497.5 382.2C499.4 381.4 502.7 381.1 504.8 381.6C506.8 382.1 508.8 383.8 509.9 385.3C511 386.8 511.7 388.6 511.5 390.4C511.4 392.2 510.3 394.6 508.9 396C507.4 397.4 504.8 398.6 502.7 398.7C500.6 398.8 498.1 398.6 496.5 396.6C495 394.6 493.3 388.9 493.4 386.5Z" fill="#fff" stroke="#161616" stroke-width="1.6"/>
<path d="M497.5 395.2L495.3 405L501.9 405L507 397Z" fill="#fff" stroke="#161616" stroke-width="1.5"/>
<ellipse cx="503.7" cy="391.7" rx="4.3" ry="3.7" fill="#fff" stroke="#161616" stroke-width="1.6" transform="rotate(20 503.7 391.7)"/>
<ellipse cx="504.3" cy="390.6" rx="2.1" ry="1.5" fill="#fff" stroke="#161616" stroke-width="1.2" transform="rotate(20 504.3 390.6)"/>
<path d="M570 388.7L579.6 384.5L580.7 387.3L570 392.1Z" fill="#fff" stroke="#161616" stroke-width="1.4"/>
<path d="M609.3 364.7L614 362.6L620.3 365.7L621.3 369.9L617.1 372L617.1 377.2L621.8 379.3L621.8 382.5L615 384L609.3 381.4Z" fill="#fff" stroke="#161616" stroke-width="1.6"/>
<path d="M614 362.8L615.6 366.8L620.9 369.5M615.6 366.8L615 372M617.1 377.4L615.6 380.4M615 384.1L615.6 380.4" fill="none" stroke="#161616" stroke-width="1.2"/>
<ellipse cx="612.4" cy="374.7" rx="1.5" ry="2.3" fill="#444" stroke="#161616" stroke-width="1.1"/>
<path d="M581.5 370.4L585.7 366.8L603.5 361L608.2 363.6L609.3 367.3L609.3 378.3L605.6 383.5L601.4 386.1L591.5 387.5L582.6 381.4Z" fill="#fff" stroke="#161616" stroke-width="1.6"/>
<path d="M581.5 370.4L590.9 376.2L603.5 370.9L609.3 367.3M590.9 376.2L591.6 387.3M603.5 370.9L603.7 385.2M606.2 369.3L606.2 382.7M594.1 377.4L594.7 385.6" fill="none" stroke="#161616" stroke-width="1.2"/>
<path d="M589.9 370.1L594.1 367L602.5 364.7L604.8 366.5L599.5 370.9L593.2 372.6Z" fill="#fff" stroke="#161616" stroke-width="1.4"/>
<path d="M591.8 370.5L595.1 368L598.1 369.9L594.7 371.8Z" fill="#444" stroke="#161616" stroke-width="0.8"/>
<path d="M578.9 379.8L583.6 376.7L589.9 378.8L590.4 385.6L585.7 388.2L580.5 386.1Z" fill="#fff" stroke="#161616" stroke-width="1.6"/>
<path d="M583.6 376.8L584.4 382L580.5 386M584.4 382L590.3 383.5" fill="none" stroke="#161616" stroke-width="1.2"/>
<path d="M634.3 360.5L635.5 372.4L638.7 373.2L638.3 360.5Z" fill="#fff" stroke="#161616" stroke-width="1.5"/>
<path d="M636.4 361.5L637 372.6" fill="none" stroke="#161616" stroke-width="1.1"/>
<ellipse cx="636.2" cy="358" rx="2.6" ry="3.2" fill="#fff" stroke="#161616" stroke-width="1.8"/>
<ellipse cx="636.2" cy="358" rx="0.9" ry="1.4" fill="#fff" stroke="#161616" stroke-width="1.1"/>
<path d="M633.7 384.5L637 381.8L647.9 386.6L645.8 393.1L634.9 387.7Z" fill="#fff" stroke="#161616" stroke-width="1.6"/>
<ellipse cx="638.1" cy="385.2" rx="1.4" ry="0.8" fill="#fff" stroke="#161616" stroke-width="1.2" transform="rotate(25 638.1 385.2)"/>
<path d="M645.4 386.2C646.4 385.6 649 385.4 650.6 386C652.2 386.6 654.2 388.3 654.8 389.8C655.4 391.3 654.8 393.9 654 395C653.1 396.2 651 396.9 649.6 396.7C648.1 396.5 646.2 395.1 645.4 394C644.5 392.8 644.5 391.1 644.5 389.8C644.5 388.5 644.4 386.9 645.4 386.2Z" fill="#fff" stroke="#161616" stroke-width="1.6"/>
<path d="M647.9 386.6C647.6 387.2 646.4 388.9 646.2 390.2C646.1 391.5 646.9 393.7 647.1 394.4" fill="none" stroke="#161616" stroke-width="1.2"/>
<path d="M652 352C652.6 350 657.5 342.5 659 340C660.5 337.5 664.2 329.9 665.8 328.2C667.3 326.6 671.3 325 673.2 324.5C675.2 324 681.7 324 684 324C686.3 324 692.7 323.6 694.5 324.5C696.3 325.4 700.2 330.1 700.8 332C701.3 333.9 700.7 339.9 699.5 342.5C698.3 345.1 691.4 353.9 689.5 356C687.6 358.1 683.9 361.3 682 362C680.1 362.7 674.1 362.5 672 362.5C669.9 362.5 664 362.4 662 362C660 361.6 654.3 359.6 653.2 358.5C652.2 357.4 651.4 354 652 352Z" fill="#fff" stroke="#161616" stroke-width="1.9"/>
<path d="M680 360C680.8 359.4 685.7 356 687.5 354C689.3 352 695.4 343.7 696.5 341.5C697.6 339.3 698.3 335 698 333.5C697.7 332 694.4 328.1 694 327.5" fill="none" stroke="#161616" stroke-width="1.1"/>
<ellipse cx="677" cy="346" rx="7.2" ry="13.5" fill="#fff" stroke="#161616" stroke-width="1.6" transform="rotate(-24 677 346)"/>
<ellipse cx="678" cy="346.2" rx="5.8" ry="11.8" fill="#fff" stroke="#161616" stroke-width="1.2" transform="rotate(-24 678 346.2)"/>
<ellipse cx="688.5" cy="333.5" rx="2" ry="2.8" fill="#fff" stroke="#161616" stroke-width="1.4"/>
<ellipse cx="659" cy="353.5" rx="2" ry="2.8" fill="#fff" stroke="#161616" stroke-width="1.4"/>
<path d="M713.2 319.2L718.2 317.7L722.2 320.2L722.7 327.7L719.2 331.2L713.2 331.7Z" fill="#fff" stroke="#161616" stroke-width="1.5"/>
<path d="M718.2 317.7L718.7 331" fill="none" stroke="#161616" stroke-width="1.1"/>
<ellipse cx="712.7" cy="325.2" rx="4.6" ry="6.8" fill="#fff" stroke="#161616" stroke-width="1.5"/>
<ellipse cx="711.2" cy="325.2" rx="5.4" ry="6.6" fill="#fff" stroke="#161616" stroke-width="1.8"/>
<ellipse cx="711.5" cy="325.5" rx="1.6" ry="2.2" fill="#333" stroke="#161616" stroke-width="1.1"/>
<path d="M782.5 418C783.1 416 788 408.5 789.5 406C791 403.5 794.7 395.9 796.2 394.2C797.8 392.6 801.8 391 803.8 390.5C805.7 390 812.2 390 814.5 390C816.8 390 823.2 389.6 825 390.5C826.8 391.4 830.7 396.1 831.2 398C831.8 399.9 831.2 405.9 830 408.5C828.8 411.1 821.9 419.9 820 422C818.1 424.1 814.4 427.3 812.5 428C810.6 428.7 804.6 428.5 802.5 428.5C800.4 428.5 794.5 428.4 792.5 428C790.5 427.6 784.8 425.6 783.8 424.5C782.7 423.4 781.9 420 782.5 418Z" fill="#fff" stroke="#161616" stroke-width="1.9"/>
<path d="M810.5 426C811.3 425.4 816.2 422 818 420C819.8 418 825.9 409.7 827 407.5C828.1 405.3 828.8 401 828.5 399.5C828.2 398 824.9 394.1 824.5 393.5" fill="none" stroke="#161616" stroke-width="1.1"/>
<ellipse cx="807.5" cy="412" rx="7.2" ry="13.5" fill="#fff" stroke="#161616" stroke-width="1.6" transform="rotate(-24 807.5 412)"/>
<ellipse cx="808.5" cy="412.2" rx="5.8" ry="11.8" fill="#fff" stroke="#161616" stroke-width="1.2" transform="rotate(-24 808.5 412.2)"/>
<ellipse cx="819" cy="399.5" rx="2" ry="2.8" fill="#fff" stroke="#161616" stroke-width="1.4"/>
<ellipse cx="789.5" cy="419.5" rx="2" ry="2.8" fill="#fff" stroke="#161616" stroke-width="1.4"/>
<path d="M843.6 388L848.6 386.5L852.6 389L853.1 396.5L849.6 400L843.6 400.5Z" fill="#fff" stroke="#161616" stroke-width="1.5"/>
<path d="M848.6 386.5L849.1 399.8" fill="none" stroke="#161616" stroke-width="1.1"/>
<ellipse cx="843.1" cy="394" rx="4.6" ry="6.8" fill="#fff" stroke="#161616" stroke-width="1.5"/>
<ellipse cx="841.6" cy="394" rx="5.4" ry="6.6" fill="#fff" stroke="#161616" stroke-width="1.8"/>
<ellipse cx="841.9" cy="394.3" rx="1.6" ry="2.2" fill="#333" stroke="#161616" stroke-width="1.1"/>
<path d="M754.4 428.9L768.9 422.2L770.4 426.7L755.9 433.8Z" fill="#fff" stroke="#161616" stroke-width="1.4"/>
<path d="M757.4 427.8L758.9 432.3M760 426.7L761.5 431.2M762.6 425.6L764.1 430M765.2 424.4L766.7 428.9M767.8 423.3L768.9 427.4" fill="none" stroke="#161616" stroke-width="1.5"/>
<path d="M706.2 448.2L721.1 423.9L728.6 420.1L748.2 423.9L754.8 431.3L755.7 439.8L740.7 457.5L735.1 459.4L715.5 455.6L708.1 453.8Z" fill="#fff" stroke="#161616" stroke-width="1.8"/>
<path d="M708.4 448.3L722.3 425.9L729 422.6L747.3 425.9L752.5 431.9L753.3 439L739.8 455.4L735 456.9L716.3 453.6Z" fill="none" stroke="#161616" stroke-width="1.1"/>
<path d="M717.4 439.8L725.8 427.6L745.4 429.5L749.1 436L748.2 441.6L737 453.8L722.1 451.9Z" fill="#fff" stroke="#161616" stroke-width="1.6"/>
<path d="M719.6 440.1L726.7 430L743.9 431.5M737 453.8L739.1 450.6L746.5 441.6" fill="none" stroke="#161616" stroke-width="1.1"/>
<ellipse cx="744.7" cy="434.1" rx="3.4" ry="4.1" fill="#fff" stroke="#161616" stroke-width="1.5"/>
<path d="M707.3 446.5L711.1 445.7L714.4 448.7L714.4 453.2L711.1 455.1L707.3 453.9Z" fill="#fff" stroke="#161616" stroke-width="0"/>
<ellipse cx="712.6" cy="449.8" rx="3" ry="4.1" fill="#fff" stroke="#161616" stroke-width="1.5"/>
<ellipse cx="710.3" cy="450.6" rx="3.4" ry="4.1" fill="#fff" stroke="#161616" stroke-width="1.6"/>
<ellipse cx="771.1" cy="509.2" rx="12.3" ry="16.7" fill="#fff" stroke="#161616" stroke-width="1.8" transform="rotate(-6 771.1 509.2)"/>
<ellipse cx="768.6" cy="509" rx="12.1" ry="16.9" fill="#fff" stroke="#161616" stroke-width="0" transform="rotate(-6 768.6 509)"/>
<ellipse cx="764.1" cy="508.5" rx="12" ry="17.1" fill="#fff" stroke="#161616" stroke-width="2" transform="rotate(-6 764.1 508.5)"/>
<ellipse cx="763.6" cy="508.5" rx="8.2" ry="12.8" fill="#fff" stroke="#161616" stroke-width="1.8" transform="rotate(-6 763.6 508.5)"/>
<ellipse cx="763.6" cy="508.8" rx="5.4" ry="9.4" fill="#fff" stroke="#161616" stroke-width="1.6" transform="rotate(-6 763.6 508.8)"/>
<path d="M766.6 502.4C766.9 503.4 768.6 506.3 768.6 508.5C768.6 510.7 766.9 514.4 766.6 515.6" fill="none" stroke="#161616" stroke-width="1.2"/>
<path d="M800.6 488.8L805.6 488.2L808.6 491.7L808.6 498.2L805.6 501.8L800.6 502Z" fill="#fff" stroke="#161616" stroke-width="1.5"/>
<path d="M805.6 488.2L805.6 501.8" fill="none" stroke="#161616" stroke-width="1.1"/>
<ellipse cx="800" cy="495.2" rx="6" ry="6.9" fill="#fff" stroke="#161616" stroke-width="1.8"/>
<path d="M796.2 491.6L800.2 489.4L804.2 492L804.2 498L800 500.6L796.2 498Z" fill="#fff" stroke="#161616" stroke-width="1.2"/>
<ellipse cx="800.2" cy="495" rx="1.9" ry="2.4" fill="#444" stroke="#161616" stroke-width="1.1"/>
<path d="M734.4 515.8L739.4 515.2L742.4 518.7L742.4 525.2L739.4 528.8L734.4 529Z" fill="#fff" stroke="#161616" stroke-width="1.5"/>
<path d="M739.4 515.2L739.4 528.8" fill="none" stroke="#161616" stroke-width="1.1"/>
<ellipse cx="733.8" cy="522.2" rx="6" ry="6.9" fill="#fff" stroke="#161616" stroke-width="1.8"/>
<path d="M730 518.6L734 516.4L738 519L738 525L733.8 527.6L730 525Z" fill="#fff" stroke="#161616" stroke-width="1.2"/>
<ellipse cx="734" cy="522" rx="1.9" ry="2.4" fill="#444" stroke="#161616" stroke-width="1.1"/>
<path d="M504.1 150L512.6 149.5L512.6 159.6L505.1 162.1Z" fill="#fff" stroke="#161616" stroke-width="1.5"/>
<path d="M507.1 150L508.1 161.1M510.1 149.8L510.6 160.1" fill="none" stroke="#161616" stroke-width="1.2"/>
<ellipse cx="501.1" cy="156.1" rx="4" ry="8.5" fill="#fff" stroke="#161616" stroke-width="1.8" transform="rotate(8 501.1 156.1)"/>
<ellipse cx="498" cy="156.6" rx="3.5" ry="7.5" fill="#fff" stroke="#161616" stroke-width="1.4" transform="rotate(8 498 156.6)"/>
<path d="M490.5 151L498 149L498 164.1L489.5 165.1Z" fill="#fff" stroke="#161616" stroke-width="0"/>
<path d="M491 150.5L498.6 149M489.5 165.1L497.5 164.1" fill="none" stroke="#161616" stroke-width="1.5"/>
<ellipse cx="492" cy="158.1" rx="5.5" ry="7.5" fill="#fff" stroke="#161616" stroke-width="1.8" transform="rotate(8 492 158.1)"/>
<ellipse cx="491.5" cy="158.6" rx="2.8" ry="4" fill="#fff" stroke="#161616" stroke-width="1.4" transform="rotate(8 491.5 158.6)"/>
<ellipse cx="491.3" cy="159.1" rx="1" ry="1.8" fill="#555" stroke="#161616" stroke-width="0.8" transform="rotate(8 491.3 159.1)"/>
<path d="M629 233.3L646.5 229.8L647.5 240.9L630.5 244.4Z" fill="#fff" stroke="#161616" stroke-width="1.5"/>
<path d="M632.5 232.8L634 243.4M636 232.1L637.5 242.9M639.5 231.3L641 242.1M643 230.6L644.5 241.4" fill="none" stroke="#161616" stroke-width="1.6"/>
<path d="M619.4 241.4L629 235.9L630.5 243.4L621.4 246.9Z" fill="#fff" stroke="#161616" stroke-width="1.4"/>
<path d="M604.4 245.4C604.5 246.1 603.8 248.2 605.4 249.4C607 250.6 611.1 252.6 613.9 252.4C616.8 252.2 620.9 249.7 622.4 248.4C623.9 247.1 622.9 245.1 622.9 244.4" fill="#fff" stroke="#161616" stroke-width="1.6"/>
<ellipse cx="613.7" cy="244.4" rx="9.3" ry="5.3" fill="#fff" stroke="#161616" stroke-width="1.6" transform="rotate(-6 613.7 244.4)"/>
<ellipse cx="613.4" cy="243.4" rx="3.8" ry="2" fill="#fff" stroke="#161616" stroke-width="1.4" transform="rotate(-6 613.4 243.4)"/>
<path d="M834 184C836 184.6 843 185.9 846 187.5C849 189.1 850.8 191.3 852 193.5C853.2 195.7 853.7 198.1 853.5 200.5C853.3 202.9 852.5 205.4 851 208C849.5 210.6 847.5 213.2 844.5 216C841.5 218.8 837.8 221.4 833 225C828.2 228.6 820.3 233.7 815.5 237.5C810.7 241.3 805.9 246.2 804 248" fill="none" stroke="#222" stroke-width="2.8" stroke-linecap="butt" stroke-dasharray="1.8 1.5 1 1.2 2.6 1.3 1.3 1.5" />
<ellipse cx="824.3" cy="182.2" rx="2.5" ry="4.8" fill="#fff" stroke="#161616" stroke-width="1.5"/>
<ellipse cx="790.5" cy="272.2" rx="7.1" ry="5" fill="#fff" stroke="#161616" stroke-width="2" transform="rotate(20 790.5 272.2)"/>
<ellipse cx="790.1" cy="271.8" rx="5" ry="2.8" fill="#fff" stroke="#161616" stroke-width="1.4" transform="rotate(20 790.1 271.8)"/>
<path d="M775.7 272.7L782.7 261.8L787.1 260.7L788.8 264L782.1 275.7L777.3 276.1Z" fill="#fff" stroke="#161616" stroke-width="1.6"/>
<path d="M779.1 267.5L785.1 268.3M781.2 264.2L786.9 264.9M777.3 272.7L781.7 273.5" fill="none" stroke="#161616" stroke-width="1.2"/>
<g opacity="0.99">
<text x="0" y="0" transform="translate(36.6 513.2) rotate(-26)" font-size="17" font-weight="bold" letter-spacing="1.2" stroke="#111" stroke-width="0.5">FR.</text>
<text x="388.2" y="20.1" font-size="16.3" stroke="#161616" stroke-width="0.3">27</text>
<text x="368.5" y="38.1" font-size="16.3" stroke="#161616" stroke-width="0.8">41</text>
<text x="324" y="126.4" font-size="16.3" stroke="#161616" stroke-width="0.8">37</text>
<text x="379.9" y="135.3" font-size="16.3" stroke="#161616" stroke-width="0.3">14</text>
<text x="229" y="116.1" font-size="16.3" stroke="#161616" stroke-width="0.3">28</text>
<text x="529.5" y="82.4" font-size="16.3" stroke="#161616" stroke-width="0.8">37</text>
<text x="554" y="93.9" font-size="16.3" stroke="#161616" stroke-width="0.8">30</text>
<text x="672.7" y="86.1" font-size="16.3" stroke="#161616" stroke-width="0.3">23</text>
<text x="713.7" y="101.5" font-size="16.3" stroke="#161616" stroke-width="0.3">24</text>
<text x="720.7" y="121.9" font-size="16.3" stroke="#161616" stroke-width="0.6">3</text>
<text x="702.5" y="167" font-size="16.3" stroke="#161616" stroke-width="0.3">22</text>
<text x="884.7" y="57.4" font-size="16.3" stroke="#161616" stroke-width="0.3">19</text>
<text x="827.2" y="90.1" font-size="16.3" stroke="#161616" stroke-width="0.8">36</text>
<text x="920.5" y="169.9" font-size="16.3" stroke="#161616" stroke-width="0.8">35</text>
<text x="805.2" y="163.1" font-size="16.3" stroke="#161616" stroke-width="0.6">7</text>
<text x="878" y="207" font-size="16.3" stroke="#161616" stroke-width="0.3">21</text>
<text x="782" y="304.4" font-size="16.3" stroke="#161616" stroke-width="0.6">7</text>
<text x="545.7" y="214.1" font-size="16.3" stroke="#161616" stroke-width="0.3">16</text>
<text x="412.7" y="163.5" font-size="16.3" stroke="#161616" stroke-width="0.3">15</text>
<text x="271.2" y="150.1" font-size="16.3" stroke="#161616" stroke-width="0.8">32</text>
<text x="330.2" y="202.1" font-size="16.3" stroke="#161616" stroke-width="0.3">17</text>
<text x="402.2" y="216.9" font-size="16.3" stroke="#161616" stroke-width="0.8">31</text>
<text x="326.2" y="228" font-size="16.3" stroke="#161616" stroke-width="0.6">5</text>
<text x="289.7" y="275.6" font-size="16.3" stroke="#161616" stroke-width="0.8">40</text>
<text x="407" y="275.6" font-size="16.3" stroke="#161616" stroke-width="0.6">4</text>
<text x="216.5" y="144.4" font-size="16.3" stroke="#161616" stroke-width="0.8">38</text>
<text x="192.7" y="221.4" font-size="16.3" stroke="#161616" stroke-width="0.3">26</text>
<text x="224.5" y="233.9" font-size="16.3" stroke="#161616" stroke-width="0.8">44</text>
<text x="196" y="260.6" font-size="16.3" stroke="#161616" stroke-width="0.3">25</text>
<text x="30.5" y="280.9" font-size="16.3" stroke="#161616" stroke-width="0.3">13</text>
<text x="199.2" y="318.9" font-size="16.3" stroke="#161616" stroke-width="0.8">44</text>
<text x="205.5" y="375.9" font-size="16.3" stroke="#161616" stroke-width="0.3">20</text>
<text x="402" y="333.2" font-size="16.3" stroke="#161616" stroke-width="0.3">12</text>
<text x="351.5" y="381.4" font-size="16.3" stroke="#161616" stroke-width="0.3">29</text>
<text x="294.5" y="405.9" font-size="16.3" stroke="#161616" stroke-width="0.3">18</text>
<text x="147.2" y="433.2" font-size="16.3" stroke="#161616" stroke-width="0.6">2</text>
<text x="165.2" y="442.1" font-size="16.3" stroke="#161616" stroke-width="0.6">1</text>
<text x="185.7" y="542.4" font-size="16.3" stroke="#161616" stroke-width="0.8">39</text>
<text x="326.8" y="493.9" font-size="16.3" stroke="#161616" stroke-width="0.3">11</text>
<text x="532.2" y="471.6" font-size="16.3" stroke="#161616" stroke-width="0.6">8</text>
<text x="646" y="432.6" font-size="16.3" stroke="#161616" stroke-width="0.6">6</text>
<text x="628.5" y="330.9" font-size="16.3" stroke="#161616" stroke-width="0.8">43</text>
<text x="659" y="301.1" font-size="16.3" stroke="#161616" stroke-width="0.3">10</text>
<text x="704.7" y="289.5" font-size="16.3" stroke="#161616" stroke-width="0.8">42</text>
<text x="801.2" y="364.6" font-size="16.3" stroke="#161616" stroke-width="0.3">10</text>
<text x="838.7" y="356.2" font-size="16.3" stroke="#161616" stroke-width="0.8">42</text>
<text x="729" y="397.1" font-size="16.3" stroke="#161616" stroke-width="0.6">9</text>
<text x="758" y="475.9" font-size="16.3" stroke="#161616" stroke-width="0.8">33</text>
<text x="790" y="467.1" font-size="16.3" stroke="#161616" stroke-width="0.8">34</text>
<text x="724" y="495.1" font-size="16.3" stroke="#161616" stroke-width="0.8">34</text>
</g>
</svg>
</body></html>
